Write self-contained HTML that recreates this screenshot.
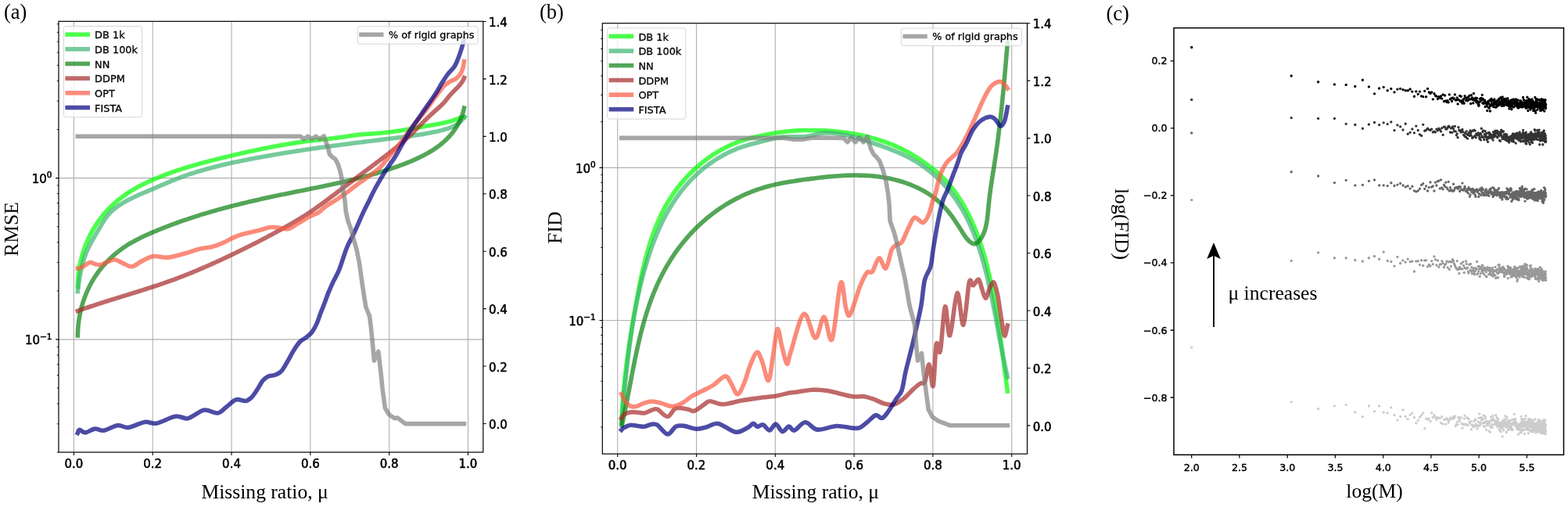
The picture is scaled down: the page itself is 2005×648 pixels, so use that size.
<!DOCTYPE html><html><head><meta charset="utf-8"><style>html,body{margin:0;padding:0;background:#fff}svg{display:block}</style></head><body>
<svg width="2005" height="648" viewBox="0 0 2005 648">
<rect width="2005" height="648" fill="#fff"/>
<clipPath id="ca"><rect x="75" y="27.3" width="542.8" height="550.7"/></clipPath>
<path d="M94.4,27.3 V578 M195.22,27.3 V578 M296.04,27.3 V578 M396.86,27.3 V578 M497.68,27.3 V578 M598.5,27.3 V578 M75,227.6 H617.8 M75,433.9 H617.8" stroke="#b0b0b0" stroke-width="1.1" fill="none"/>
<g clip-path="url(#ca)" fill="none" stroke-width="5.6" stroke-linejoin="round">
<path d="M99.4,366.5 L99.43,364.26 L99.49,362.01 L99.58,359.77 L99.71,357.52 L99.88,355.27 L100.07,353.03 L100.31,350.78 L100.57,348.54 L100.88,346.3 L101.21,344.07 L101.58,341.84 L101.98,339.61 L102.42,337.39 L102.89,335.17 L103.39,332.97 L103.93,330.76 L104.5,328.57 L105.1,326.39 L105.74,324.21 L106.41,322.04 L107.11,319.89 L107.85,317.74 L108.62,315.61 L109.42,313.49 L110.25,311.38 L111.11,309.29 L112.01,307.21 L112.94,305.14 L113.9,303.09 L114.9,301.06 L115.92,299.04 L116.98,297.04 L118.07,295.06 L119.19,293.1 L120.34,291.16 L121.52,289.23 L122.74,287.33 L123.98,285.45 L125.26,283.59 L126.57,281.75 L127.9,279.93 L129.26,278.14 L130.66,276.36 L132.08,274.62 L133.53,272.89 L135.01,271.19 L136.51,269.52 L138.04,267.87 L139.6,266.24 L141.18,264.65 L142.79,263.08 L144.43,261.53 L146.09,260.01 L147.77,258.53 L149.48,257.07 L151.21,255.63 L152.97,254.23 L154.75,252.86 L156.55,251.51 L158.37,250.19 L160.21,248.89 L162.07,247.62 L163.95,246.38 L165.85,245.16 L167.77,243.97 L169.7,242.8 L171.65,241.65 L173.61,240.53 L175.59,239.42 L177.59,238.34 L179.6,237.28 L181.62,236.24 L183.65,235.22 L185.69,234.22 L187.75,233.24 L189.81,232.28 L191.89,231.34 L193.97,230.41 L196.06,229.5 L198.16,228.6 L200.26,227.72 L202.37,226.86 L204.49,226.01 L206.61,225.17 L208.73,224.35 L210.85,223.54 L212.98,222.75 L215.11,221.96 L217.25,221.19 L219.38,220.43 L221.52,219.68 L223.65,218.94 L225.79,218.21 L227.94,217.5 L230.08,216.79 L232.23,216.09 L234.37,215.41 L236.52,214.73 L238.68,214.06 L240.83,213.4 L242.98,212.75 L245.14,212.11 L247.3,211.48 L249.46,210.85 L251.62,210.23 L253.79,209.62 L255.95,209.02 L258.12,208.42 L260.29,207.83 L262.46,207.25 L264.63,206.67 L266.81,206.1 L268.99,205.54 L271.16,204.98 L273.34,204.42 L275.53,203.87 L277.71,203.33 L279.89,202.79 L282.08,202.25 L284.27,201.72 L286.46,201.19 L288.65,200.67 L290.84,200.14 L293.04,199.62 L295.23,199.11 L297.43,198.59 L299.63,198.08 L301.83,197.57 L304.03,197.06 L306.24,196.56 L308.44,196.06 L310.65,195.56 L312.85,195.07 L315.06,194.57 L317.27,194.08 L319.49,193.6 L321.7,193.12 L323.91,192.64 L326.13,192.17 L328.34,191.7 L330.56,191.23 L332.78,190.77 L335,190.31 L337.22,189.86 L339.44,189.42 L341.67,188.97 L343.89,188.54 L346.12,188.1 L348.34,187.68 L350.57,187.26 L352.8,186.84 L355.02,186.43 L357.25,186.03 L359.48,185.63 L361.71,185.24 L363.95,184.85 L366.18,184.47 L368.41,184.1 L370.64,183.73 L372.88,183.38 L375.11,183.02 L377.35,182.68 L379.58,182.34 L381.82,182.01 L384.06,181.69 L386.29,181.37 L388.53,181.06 L390.77,180.77 L393.01,180.47 L395.24,180.19 L397.48,179.92 L399.72,179.65 L401.96,179.39 L404.2,179.14 L406.44,178.89 L408.68,178.64 L410.92,178.4 L413.16,178.16 L415.4,177.92 L417.64,177.67 L419.88,177.43 L422.12,177.18 L424.36,176.92 L426.6,176.66 L428.84,176.4 L431.08,176.12 L433.32,175.84 L435.56,175.54 L437.8,175.23 L440.04,174.91 L442.28,174.58 L444.52,174.23 L446.77,173.88 L449.01,173.54 L451.25,173.21 L453.49,172.89 L455.74,172.6 L457.98,172.33 L460.23,172.09 L462.47,171.87 L464.72,171.67 L466.97,171.49 L469.22,171.32 L471.47,171.16 L473.72,171.01 L475.97,170.86 L478.22,170.7 L480.47,170.55 L482.72,170.38 L484.97,170.2 L487.21,170.01 L489.46,169.8 L491.7,169.57 L493.95,169.33 L496.19,169.07 L498.43,168.8 L500.67,168.51 L502.91,168.21 L505.15,167.9 L507.39,167.58 L509.63,167.24 L511.86,166.9 L514.1,166.55 L516.33,166.19 L518.56,165.82 L520.8,165.44 L523.03,165.06 L525.26,164.68 L527.49,164.29 L529.72,163.89 L531.94,163.5 L534.17,163.1 L536.4,162.7 L538.62,162.3 L540.85,161.9 L543.07,161.5 L545.3,161.1 L547.52,160.71 L549.74,160.32 L551.96,159.93 L554.19,159.55 L556.41,159.16 L558.62,158.77 L560.84,158.37 L563.05,157.96 L565.25,157.52 L567.45,157.06 L569.64,156.57 L571.83,156.05 L574,155.48 L576.17,154.87 L578.33,154.21 L580.47,153.5 L582.6,152.73 L584.73,151.92 L586.87,151.15 L589.03,150.49 L591.24,150.02 L593.5,149.8" stroke="#00ff00" stroke-opacity="0.7" stroke-linecap="square"/>
<path d="M99.4,372.5 L99.67,370.24 L99.94,367.98 L100.23,365.72 L100.53,363.47 L100.85,361.22 L101.18,358.97 L101.52,356.73 L101.89,354.49 L102.28,352.26 L102.69,350.03 L103.13,347.81 L103.59,345.6 L104.07,343.39 L104.59,341.2 L105.14,339.01 L105.71,336.84 L106.32,334.67 L106.97,332.52 L107.65,330.38 L108.37,328.25 L109.13,326.14 L109.93,324.04 L110.78,321.95 L111.66,319.88 L112.59,317.82 L113.56,315.78 L114.57,313.75 L115.6,311.73 L116.66,309.73 L117.75,307.73 L118.86,305.74 L119.99,303.76 L121.13,301.79 L122.29,299.83 L123.45,297.87 L124.61,295.91 L125.77,293.96 L126.93,292.01 L128.09,290.06 L129.24,288.11 L130.39,286.18 L131.56,284.26 L132.75,282.36 L133.98,280.49 L135.24,278.65 L136.55,276.86 L137.92,275.11 L139.36,273.41 L140.87,271.76 L142.47,270.18 L144.13,268.66 L145.86,267.19 L147.65,265.77 L149.49,264.4 L151.37,263.08 L153.29,261.81 L155.24,260.57 L157.21,259.38 L159.21,258.23 L161.21,257.11 L163.22,256.02 L165.23,254.97 L167.25,253.94 L169.28,252.94 L171.32,251.97 L173.36,251.01 L175.4,250.07 L177.45,249.15 L179.51,248.24 L181.56,247.35 L183.63,246.46 L185.69,245.59 L187.76,244.71 L189.83,243.84 L191.9,242.97 L193.98,242.09 L196.05,241.21 L198.13,240.33 L200.21,239.44 L202.29,238.54 L204.37,237.65 L206.46,236.75 L208.54,235.86 L210.63,234.97 L212.73,234.08 L214.82,233.2 L216.92,232.32 L219.02,231.45 L221.13,230.59 L223.24,229.74 L225.35,228.91 L227.47,228.08 L229.59,227.27 L231.71,226.48 L233.84,225.7 L235.98,224.93 L238.12,224.18 L240.26,223.44 L242.4,222.72 L244.55,222 L246.71,221.3 L248.86,220.62 L251.02,219.94 L253.19,219.27 L255.35,218.62 L257.52,217.98 L259.7,217.35 L261.87,216.73 L264.05,216.12 L266.23,215.52 L268.42,214.93 L270.6,214.35 L272.79,213.78 L274.99,213.22 L277.18,212.67 L279.38,212.13 L281.58,211.59 L283.78,211.07 L285.98,210.55 L288.19,210.04 L290.39,209.53 L292.6,209.04 L294.81,208.55 L297.02,208.06 L299.24,207.59 L301.45,207.11 L303.67,206.65 L305.88,206.19 L308.1,205.73 L310.32,205.29 L312.54,204.84 L314.76,204.4 L316.99,203.96 L319.21,203.53 L321.43,203.1 L323.66,202.68 L325.88,202.26 L328.11,201.84 L330.33,201.43 L332.56,201.01 L334.79,200.61 L337.01,200.2 L339.24,199.8 L341.47,199.41 L343.7,199.01 L345.93,198.62 L348.16,198.23 L350.39,197.85 L352.62,197.47 L354.85,197.09 L357.09,196.71 L359.32,196.34 L361.55,195.97 L363.78,195.61 L366.02,195.24 L368.25,194.88 L370.49,194.52 L372.72,194.17 L374.96,193.81 L377.2,193.46 L379.43,193.12 L381.67,192.77 L383.91,192.43 L386.15,192.09 L388.38,191.75 L390.62,191.42 L392.86,191.08 L395.1,190.75 L397.34,190.42 L399.58,190.1 L401.82,189.77 L404.06,189.45 L406.31,189.13 L408.55,188.81 L410.79,188.5 L413.03,188.18 L415.27,187.87 L417.52,187.56 L419.76,187.25 L422,186.94 L424.25,186.64 L426.49,186.33 L428.74,186.03 L430.98,185.73 L433.23,185.43 L435.47,185.14 L437.72,184.84 L439.96,184.54 L442.21,184.25 L444.45,183.96 L446.7,183.67 L448.95,183.38 L451.19,183.09 L453.44,182.8 L455.69,182.52 L457.93,182.23 L460.18,181.95 L462.43,181.67 L464.68,181.39 L466.92,181.1 L469.17,180.82 L471.42,180.54 L473.67,180.27 L475.92,179.99 L478.16,179.71 L480.41,179.43 L482.66,179.16 L484.91,178.88 L487.16,178.61 L489.41,178.33 L491.66,178.06 L493.9,177.78 L496.15,177.51 L498.4,177.24 L500.65,176.97 L502.9,176.69 L505.15,176.42 L507.4,176.14 L509.65,175.86 L511.89,175.58 L514.14,175.29 L516.39,175 L518.63,174.71 L520.87,174.41 L523.12,174.1 L525.36,173.79 L527.6,173.47 L529.84,173.14 L532.07,172.81 L534.31,172.46 L536.54,172.11 L538.78,171.74 L541.01,171.37 L543.23,170.98 L545.46,170.58 L547.68,170.17 L549.9,169.74 L552.12,169.31 L554.34,168.85 L556.55,168.39 L558.76,167.9 L560.97,167.4 L563.17,166.89 L565.37,166.35 L567.56,165.78 L569.73,165.17 L571.87,164.52 L573.99,163.8 L576.08,163.02 L578.13,162.16 L580.13,161.21 L582.08,160.17 L583.97,159.02 L585.81,157.75 L587.57,156.36 L589.26,154.84 L590.88,153.19 L592.43,151.41 L593.9,149.5" stroke="#3cb371" stroke-opacity="0.7" stroke-linecap="square"/>
<path d="M99.4,429 L99.44,426.62 L99.51,424.24 L99.62,421.85 L99.78,419.47 L99.97,417.09 L100.2,414.71 L100.48,412.34 L100.79,409.97 L101.14,407.6 L101.53,405.24 L101.95,402.89 L102.42,400.54 L102.93,398.2 L103.47,395.87 L104.05,393.55 L104.68,391.24 L105.34,388.94 L106.03,386.65 L106.77,384.38 L107.55,382.12 L108.36,379.87 L109.21,377.64 L110.1,375.42 L111.03,373.22 L112,371.04 L113,368.87 L114.05,366.72 L115.13,364.6 L116.24,362.49 L117.4,360.4 L118.59,358.34 L119.82,356.3 L121.09,354.28 L122.4,352.29 L123.74,350.32 L125.12,348.38 L126.54,346.46 L127.99,344.57 L129.48,342.71 L131,340.88 L132.55,339.07 L134.14,337.29 L135.76,335.54 L137.41,333.82 L139.09,332.12 L140.8,330.46 L142.54,328.83 L144.31,327.23 L146.1,325.66 L147.93,324.12 L149.77,322.61 L151.65,321.13 L153.54,319.69 L155.46,318.28 L157.41,316.9 L159.37,315.55 L161.36,314.24 L163.36,312.97 L165.39,311.72 L167.43,310.51 L169.49,309.33 L171.57,308.18 L173.66,307.05 L175.77,305.95 L177.89,304.88 L180.02,303.82 L182.17,302.79 L184.32,301.78 L186.49,300.78 L188.66,299.8 L190.84,298.83 L193.02,297.88 L195.21,296.94 L197.41,296.01 L199.61,295.09 L201.81,294.17 L204.01,293.27 L206.22,292.38 L208.44,291.5 L210.66,290.62 L212.88,289.75 L215.1,288.9 L217.33,288.05 L219.56,287.21 L221.8,286.38 L224.04,285.56 L226.28,284.75 L228.53,283.94 L230.77,283.15 L233.03,282.36 L235.28,281.58 L237.54,280.81 L239.8,280.04 L242.06,279.29 L244.33,278.54 L246.6,277.8 L248.87,277.06 L251.15,276.34 L253.42,275.62 L255.7,274.91 L257.99,274.2 L260.27,273.51 L262.56,272.82 L264.85,272.13 L267.14,271.46 L269.43,270.79 L271.73,270.12 L274.03,269.47 L276.33,268.82 L278.63,268.17 L280.93,267.54 L283.24,266.9 L285.54,266.28 L287.85,265.66 L290.16,265.04 L292.48,264.44 L294.79,263.83 L297.1,263.24 L299.42,262.64 L301.74,262.06 L304.06,261.48 L306.38,260.9 L308.7,260.33 L311.02,259.76 L313.35,259.2 L315.67,258.65 L318,258.09 L320.32,257.55 L322.65,257 L324.98,256.47 L327.31,255.93 L329.64,255.4 L331.97,254.88 L334.3,254.35 L336.63,253.84 L338.96,253.32 L341.29,252.81 L343.62,252.3 L345.95,251.8 L348.29,251.3 L350.62,250.8 L352.95,250.31 L355.28,249.82 L357.62,249.33 L359.95,248.85 L362.28,248.37 L364.61,247.89 L366.94,247.41 L369.27,246.94 L371.61,246.46 L373.94,245.99 L376.27,245.52 L378.6,245.06 L380.93,244.59 L383.25,244.12 L385.58,243.65 L387.91,243.19 L390.24,242.72 L392.57,242.25 L394.89,241.79 L397.22,241.32 L399.55,240.85 L401.87,240.38 L404.2,239.9 L406.52,239.43 L408.85,238.95 L411.17,238.47 L413.49,237.99 L415.81,237.51 L418.14,237.02 L420.46,236.53 L422.78,236.03 L425.1,235.53 L427.41,235.03 L429.73,234.52 L432.05,234.01 L434.37,233.49 L436.68,232.97 L439,232.44 L441.31,231.91 L443.63,231.37 L445.94,230.82 L448.25,230.27 L450.56,229.71 L452.87,229.15 L455.18,228.57 L457.49,227.99 L459.8,227.4 L462.11,226.81 L464.41,226.2 L466.72,225.59 L469.02,224.97 L471.32,224.34 L473.62,223.7 L475.92,223.05 L478.22,222.39 L480.52,221.72 L482.82,221.04 L485.12,220.35 L487.41,219.65 L489.71,218.93 L492,218.21 L494.29,217.48 L496.58,216.73 L498.87,215.97 L501.16,215.2 L503.45,214.42 L505.73,213.62 L508.02,212.81 L510.3,211.99 L512.58,211.15 L514.86,210.3 L517.14,209.43 L519.41,208.55 L521.67,207.65 L523.92,206.73 L526.17,205.8 L528.4,204.84 L530.62,203.86 L532.82,202.87 L535.02,201.84 L537.19,200.8 L539.35,199.73 L541.48,198.64 L543.6,197.52 L545.7,196.38 L547.77,195.2 L549.81,194 L551.83,192.77 L553.83,191.51 L555.79,190.22 L557.72,188.9 L559.63,187.54 L561.49,186.15 L563.33,184.73 L565.13,183.27 L566.89,181.78 L568.61,180.24 L570.3,178.67 L571.94,177.07 L573.54,175.42 L575.1,173.73 L576.61,172 L578.07,170.23 L579.49,168.41 L580.85,166.55 L582.17,164.65 L583.43,162.7 L584.64,160.7 L585.8,158.66 L586.9,156.57 L587.94,154.43 L588.92,152.24 L589.84,150 L590.7,147.7 L591.5,145.36 L592.23,142.96 L592.9,140.51 L593.5,138" stroke="#0a800f" stroke-opacity="0.7" stroke-linecap="square"/>
<path d="M99.4,397.5 L101.53,396.73 L103.66,395.97 L105.8,395.21 L107.94,394.46 L110.08,393.71 L112.22,392.98 L114.37,392.25 L116.51,391.52 L118.66,390.8 L120.81,390.09 L122.97,389.38 L125.12,388.67 L127.28,387.97 L129.44,387.28 L131.59,386.58 L133.76,385.89 L135.92,385.21 L138.08,384.53 L140.24,383.85 L142.41,383.17 L144.57,382.49 L146.74,381.82 L148.9,381.15 L151.07,380.48 L153.24,379.81 L155.41,379.14 L157.57,378.47 L159.74,377.81 L161.91,377.14 L164.08,376.47 L166.25,375.8 L168.41,375.14 L170.58,374.47 L172.75,373.79 L174.91,373.12 L177.08,372.45 L179.24,371.77 L181.41,371.09 L183.57,370.41 L185.73,369.72 L187.89,369.03 L190.05,368.34 L192.21,367.65 L194.36,366.95 L196.52,366.24 L198.67,365.53 L200.82,364.82 L202.97,364.1 L205.12,363.38 L207.26,362.65 L209.4,361.91 L211.54,361.17 L213.68,360.42 L215.82,359.66 L217.95,358.9 L220.08,358.13 L222.21,357.35 L224.33,356.57 L226.46,355.78 L228.58,354.98 L230.69,354.17 L232.81,353.35 L234.92,352.53 L237.03,351.7 L239.13,350.87 L241.24,350.02 L243.34,349.17 L245.44,348.32 L247.53,347.46 L249.62,346.59 L251.72,345.72 L253.8,344.84 L255.89,343.95 L257.97,343.06 L260.05,342.16 L262.13,341.26 L264.21,340.35 L266.28,339.44 L268.36,338.53 L270.42,337.6 L272.49,336.68 L274.56,335.74 L276.62,334.81 L278.68,333.87 L280.74,332.92 L282.8,331.97 L284.85,331.02 L286.9,330.06 L288.95,329.1 L291,328.14 L293.05,327.17 L295.09,326.2 L297.13,325.22 L299.18,324.25 L301.21,323.27 L303.25,322.28 L305.28,321.29 L307.32,320.3 L309.35,319.31 L311.38,318.31 L313.4,317.31 L315.43,316.3 L317.45,315.29 L319.47,314.28 L321.49,313.27 L323.51,312.25 L325.53,311.22 L327.54,310.19 L329.55,309.16 L331.57,308.13 L333.57,307.09 L335.58,306.04 L337.59,305 L339.59,303.95 L341.59,302.89 L343.59,301.83 L345.59,300.77 L347.59,299.7 L349.58,298.62 L351.57,297.55 L353.56,296.47 L355.55,295.38 L357.54,294.29 L359.53,293.19 L361.51,292.09 L363.49,290.99 L365.47,289.88 L367.45,288.76 L369.42,287.64 L371.4,286.51 L373.36,285.38 L375.32,284.24 L377.28,283.09 L379.23,281.93 L381.18,280.76 L383.12,279.58 L385.05,278.4 L386.97,277.2 L388.89,276 L390.8,274.78 L392.7,273.55 L394.6,272.31 L396.48,271.06 L398.35,269.79 L400.22,268.52 L402.07,267.23 L403.92,265.93 L405.76,264.63 L407.59,263.31 L409.43,261.99 L411.25,260.66 L413.07,259.33 L414.9,257.99 L416.71,256.65 L418.53,255.31 L420.35,253.96 L422.17,252.61 L423.98,251.26 L425.79,249.91 L427.61,248.55 L429.42,247.19 L431.23,245.83 L433.04,244.47 L434.85,243.11 L436.66,241.74 L438.47,240.38 L440.28,239.01 L442.09,237.64 L443.9,236.27 L445.7,234.91 L447.51,233.54 L449.32,232.17 L451.13,230.8 L452.94,229.43 L454.74,228.06 L456.55,226.69 L458.36,225.32 L460.17,223.95 L461.98,222.58 L463.79,221.22 L465.6,219.85 L467.41,218.49 L469.22,217.12 L471.04,215.76 L472.85,214.4 L474.66,213.04 L476.48,211.69 L478.29,210.33 L480.1,208.97 L481.92,207.61 L483.73,206.25 L485.53,204.89 L487.34,203.53 L489.14,202.16 L490.94,200.79 L492.74,199.42 L494.53,198.04 L496.32,196.65 L498.1,195.26 L499.88,193.86 L501.65,192.46 L503.41,191.04 L505.17,189.62 L506.92,188.19 L508.67,186.76 L510.4,185.31 L512.13,183.85 L513.85,182.38 L515.56,180.9 L517.26,179.4 L518.95,177.9 L520.63,176.38 L522.3,174.84 L523.96,173.29 L525.6,171.73 L527.24,170.16 L528.86,168.57 L530.48,166.97 L532.09,165.36 L533.69,163.74 L535.3,162.12 L536.9,160.5 L538.49,158.88 L540.09,157.26 L541.7,155.64 L543.3,154.03 L544.92,152.43 L546.54,150.83 L548.17,149.25 L549.81,147.68 L551.46,146.13 L553.13,144.59 L554.81,143.07 L556.51,141.58 L558.21,140.1 L559.92,138.62 L561.61,137.14 L563.28,135.62 L564.9,134.08 L566.48,132.48 L567.99,130.82 L569.44,129.1 L570.86,127.35 L572.27,125.57 L573.68,123.8 L575.12,122.05 L576.6,120.33 L578.15,118.67 L579.74,117.04 L581.36,115.44 L582.98,113.84 L584.58,112.25 L586.15,110.62 L587.65,108.96 L589.08,107.24 L590.39,105.45 L591.58,103.58 L592.63,101.6 L593.5,99.5" stroke="#a52a2a" stroke-opacity="0.7" stroke-linecap="square"/>
<path d="M99.4,342.8C99.82,342.83 100.47,343.55 101.9,343C103.33,342.45 105.85,340.77 108,339.5C110.15,338.23 112.53,335.73 114.8,335.4C117.07,335.07 119.35,336.98 121.6,337.5C123.85,338.02 125.73,338.92 128.3,338.5C130.87,338.08 133.98,336.13 137,335C140.02,333.87 143.22,331.57 146.4,331.7C149.58,331.83 152.4,334.3 156.1,335.8C159.8,337.3 164.2,341.15 168.6,340.7C173,340.25 177.87,335.3 182.5,333.1C187.13,330.9 191.03,328.17 196.4,327.5C201.77,326.83 208.05,329.68 214.7,329.1C221.35,328.52 229.62,325.8 236.3,324C242.98,322.2 248.88,319.77 254.8,318.3C260.72,316.83 266.65,316.57 271.8,315.2C276.95,313.83 281.33,311.98 285.7,310.1C290.07,308.22 293.88,305.7 298,303.9C302.12,302.1 305.07,300.82 310.4,299.3C315.73,297.78 324.17,296.27 330,294.8C335.83,293.33 341.03,291.13 345.4,290.5C349.77,289.87 352.33,290.67 356.2,291C360.07,291.33 364.48,293.4 368.6,292.5C372.72,291.6 376.2,288.3 380.9,285.6C385.6,282.9 392.42,278.62 396.8,276.3C401.18,273.98 404.1,273.63 407.2,271.7C410.3,269.77 411.45,267.53 415.4,264.7C419.35,261.87 425.75,258.17 430.9,254.7C436.05,251.23 442.13,246.95 446.3,243.9C450.47,240.85 451.73,239.45 455.9,236.4C460.07,233.35 466.17,229.45 471.3,225.6C476.43,221.75 482.33,217.57 486.7,213.3C491.07,209.03 493.63,204.63 497.5,200C501.37,195.37 505.32,191.33 509.9,185.5C514.48,179.67 520.82,170.5 525,165C529.18,159.5 531.65,156.67 535,152.5C538.35,148.33 541.75,144.38 545.1,140C548.45,135.62 551.43,131.12 555.1,126.2C558.77,121.28 563.77,114.12 567.1,110.5C570.43,106.88 572.43,106.17 575.1,104.5C577.77,102.83 580.77,102.23 583.1,100.5C585.43,98.77 587.58,96.5 589.1,94.1C590.62,91.7 591.47,88.7 592.2,86.1C592.93,83.5 593.28,79.77 593.5,78.5" stroke="#fa5a41" stroke-opacity="0.7" stroke-linecap="square"/>
<path d="M99.4,553.5C99.78,552.8 100.05,549.4 101.7,549.3C103.35,549.2 106.05,553.1 109.3,552.9C112.55,552.7 117.25,548.55 121.2,548.1C125.15,547.65 128.15,550.93 133,550.2C137.85,549.47 145.07,544.33 150.3,543.7C155.53,543.07 158.62,547.12 164.4,546.4C170.18,545.68 179.03,540.28 185,539.4C190.97,538.52 193.72,542.3 200.2,541.1C206.68,539.9 217.43,533.22 223.9,532.2C230.37,531.18 235.03,535.2 239,535C242.97,534.8 243.93,532.83 247.7,531C251.47,529.17 256.45,524.52 261.6,524C266.75,523.48 273.97,528.53 278.6,527.9C283.23,527.27 285.55,523.03 289.4,520.2C293.25,517.37 297.58,512.18 301.7,510.9C305.82,509.62 310.75,513.02 314.1,512.5C317.45,511.98 319.23,510.38 321.8,507.8C324.37,505.22 327.13,500.55 329.5,497C331.87,493.45 333.73,489.17 336,486.5C338.27,483.83 340.37,482.25 343.1,481C345.83,479.75 349.57,480.15 352.4,479C355.23,477.85 357.53,476.98 360.1,474.1C362.67,471.22 365.22,466.08 367.8,461.7C370.38,457.32 373.02,451.92 375.6,447.8C378.18,443.68 380.73,439.7 383.3,437C385.87,434.3 388.43,433.65 391,431.6C393.57,429.55 396.38,427.65 398.7,424.7C401.02,421.75 403.02,418.02 404.9,413.9C406.78,409.78 408.43,404.1 410,400C411.57,395.9 412.67,393.57 414.3,389.3C415.93,385.03 417.8,379.35 419.8,374.4C421.8,369.45 423.98,364.53 426.3,359.6C428.62,354.67 430.88,351.87 433.7,344.8C436.52,337.73 440.33,324.38 443.2,317.2C446.07,310.02 448.45,306.85 450.9,301.7C453.35,296.55 455.58,291.43 457.9,286.3C460.22,281.17 462.37,276.05 464.8,270.9C467.23,265.75 469.93,260.55 472.5,255.4C475.07,250.25 476.8,246.15 480.2,240C483.6,233.85 488.68,225.17 492.9,218.5C497.12,211.83 500.57,208.08 505.5,200C510.43,191.92 516.83,179.17 522.5,170C528.17,160.83 533.78,153.33 539.5,145C545.22,136.67 552.53,126.5 556.8,120C561.07,113.5 562.38,110.32 565.1,106C567.82,101.68 570.43,97.58 573.1,94.1C575.77,90.62 578.93,88.45 581.1,85.1C583.27,81.75 584.58,77.85 586.1,74C587.62,70.15 588.97,66 590.2,62C591.43,58 592.95,52 593.5,50" stroke="#000080" stroke-opacity="0.7" stroke-linecap="square"/>
<path d="M99.4,174.3 L384.4,174.3 L388.5,177.8 L393.7,174.2 L398.9,177.8 L403.9,174.2 L408.9,177.8 L414.1,173.9 L416.9,181.5 L419.6,189.8 L421.5,197.2 L425.2,200.9 L428.9,203.5 L432.6,211.1 L435.4,220.4 L437.2,229.6 L438.5,242.6 L440.9,255.4 L442.4,270.9 L444.8,281.7 L448.6,292.5 L452.5,306.4 L456.3,320.2 L459.6,337 L463.3,363.3 L466.1,381.9 L468,393 L472.6,404.1 L474.4,418.9 L476.3,437.4 L478.4,461 L483.8,449.2 L487,476.2 L489.2,497.8 L492.4,521.5 L497.8,530.2 L504.3,534.5 L508.6,534.1 L518.3,541.6 L593.5,541.6" stroke="#808080" stroke-opacity="0.7" stroke-linecap="square"/>
</g>
<rect x="75" y="27.3" width="542.8" height="550.7" fill="none" stroke="#000" stroke-width="1.2"/>
<path d="M94.4,578 v4 M195.22,578 v4 M296.04,578 v4 M396.86,578 v4 M497.68,578 v4 M598.5,578 v4 M75,227.6 h-3.8 M75,433.9 h-3.8 M617.8,541.5 h3.8 M617.8,468.07 h3.8 M617.8,394.64 h3.8 M617.8,321.21 h3.8 M617.8,247.78 h3.8 M617.8,174.35 h3.8 M617.8,100.92 h3.8 M617.8,27.49 h3.8" stroke="#000" stroke-width="1.1" fill="none"/>
<path d="M75,578.1 h-2.2 M75,541.77 h-2.2 M75,516 h-2.2 M75,496 h-2.2 M75,479.67 h-2.2 M75,465.86 h-2.2 M75,453.89 h-2.2 M75,443.34 h-2.2 M75,371.8 h-2.2 M75,335.47 h-2.2 M75,309.7 h-2.2 M75,289.7 h-2.2 M75,273.37 h-2.2 M75,259.56 h-2.2 M75,247.59 h-2.2 M75,237.04 h-2.2 M75,165.5 h-2.2 M75,129.17 h-2.2 M75,103.4 h-2.2 M75,83.4 h-2.2 M75,67.07 h-2.2 M75,53.26 h-2.2 M75,41.29 h-2.2 M75,30.74 h-2.2" stroke="#000" stroke-width="0.9" fill="none"/>
<g style="font-family:'DejaVu Sans',sans-serif;font-size:15px" fill="#000" stroke="#000" stroke-width="0.55">
<text x="94.4" y="597.6" text-anchor="middle">0.0</text>
<text x="195.22" y="597.6" text-anchor="middle">0.2</text>
<text x="296.04" y="597.6" text-anchor="middle">0.4</text>
<text x="396.86" y="597.6" text-anchor="middle">0.6</text>
<text x="497.68" y="597.6" text-anchor="middle">0.8</text>
<text x="598.5" y="597.6" text-anchor="middle">1.0</text>
<text x="625" y="548.1">0.0</text>
<text x="625" y="474.67">0.2</text>
<text x="625" y="401.24">0.4</text>
<text x="625" y="327.81">0.6</text>
<text x="625" y="254.38">0.8</text>
<text x="625" y="180.95">1.0</text>
<text x="625" y="107.52">1.2</text>
<text x="625" y="34.09">1.4</text>
<text x="66.5" y="233.8" text-anchor="end">10<tspan dy="-6.6" font-size="10.5px">0</tspan></text>
<text x="66.5" y="440.1" text-anchor="end">10<tspan dy="-6.6" font-size="10.5px">−1</tspan></text>
</g>
<rect x="81.4" y="33.5" width="100.2" height="116.2" rx="2.8" fill="#fff" fill-opacity="0.8" stroke="#d6d6d6" stroke-width="1"/>
<g style="font-family:'DejaVu Sans',sans-serif;font-size:12.9px" fill="#000">
<path d="M83.4,44.1 H115" stroke="#00ff00" stroke-opacity="0.7" stroke-width="5.6"/>
<text x="121.1" y="49.3" stroke="#000" stroke-width="0.3">DB 1k</text>
<path d="M83.4,62.78 H115" stroke="#3cb371" stroke-opacity="0.7" stroke-width="5.6"/>
<text x="121.1" y="67.98" stroke="#000" stroke-width="0.3">DB 100k</text>
<path d="M83.4,81.46 H115" stroke="#0a800f" stroke-opacity="0.7" stroke-width="5.6"/>
<text x="121.1" y="86.66" stroke="#000" stroke-width="0.3">NN</text>
<path d="M83.4,100.14 H115" stroke="#a52a2a" stroke-opacity="0.7" stroke-width="5.6"/>
<text x="121.1" y="105.34" stroke="#000" stroke-width="0.3">DDPM</text>
<path d="M83.4,118.82 H115" stroke="#fa5a41" stroke-opacity="0.7" stroke-width="5.6"/>
<text x="121.1" y="124.02" stroke="#000" stroke-width="0.3">OPT</text>
<path d="M83.4,137.5 H115" stroke="#000080" stroke-opacity="0.7" stroke-width="5.6"/>
<text x="121.1" y="142.7" stroke="#000" stroke-width="0.3">FISTA</text>
</g>
<rect x="457.2" y="33.8" width="154.1" height="22.4" rx="2.8" fill="#fff" fill-opacity="0.8" stroke="#d6d6d6" stroke-width="1"/>
<path d="M459.2,44.2 H490.5" stroke="#808080" stroke-opacity="0.7" stroke-width="5.6"/>
<text x="497" y="48.5" style="font-family:'DejaVu Sans',sans-serif;font-size:12.8px" stroke="#000" stroke-width="0.3">% of rigid graphs</text>
<clipPath id="cb"><rect x="770.3" y="29.7" width="543.2" height="550.4"/></clipPath>
<path d="M789.7,29.7 V580.1 M890.5,29.7 V580.1 M991.3,29.7 V580.1 M1092.1,29.7 V580.1 M1192.9,29.7 V580.1 M1293.7,29.7 V580.1 M770.3,214.4 H1313.5 M770.3,409.5 H1313.5" stroke="#b0b0b0" stroke-width="1.1" fill="none"/>
<g clip-path="url(#cb)" fill="none" stroke-width="5.6" stroke-linejoin="round">
<path d="M794.7,540.5 L794.86,536.65 L795.04,532.82 L795.24,528.99 L795.46,525.17 L795.69,521.36 L795.95,517.56 L796.22,513.77 L796.51,509.98 L796.81,506.2 L797.13,502.43 L797.47,498.66 L797.82,494.91 L798.19,491.15 L798.57,487.41 L798.97,483.66 L799.38,479.93 L799.81,476.19 L800.25,472.46 L800.71,468.74 L801.17,465.01 L801.66,461.29 L802.15,457.58 L802.65,453.86 L803.17,450.15 L803.7,446.44 L804.24,442.73 L804.8,439.02 L805.36,435.3 L805.93,431.59 L806.52,427.88 L807.11,424.17 L807.71,420.46 L808.33,416.74 L808.95,413.03 L809.58,409.31 L810.21,405.59 L810.86,401.86 L811.51,398.14 L812.17,394.4 L812.84,390.67 L813.52,386.93 L814.2,383.18 L814.89,379.43 L815.59,375.68 L816.3,371.93 L817.03,368.18 L817.77,364.43 L818.53,360.68 L819.3,356.93 L820.09,353.19 L820.91,349.46 L821.75,345.73 L822.61,342 L823.5,338.29 L824.41,334.58 L825.35,330.89 L826.33,327.2 L827.33,323.53 L828.37,319.88 L829.44,316.23 L830.55,312.61 L831.7,309 L832.88,305.41 L834.11,301.84 L835.38,298.28 L836.69,294.75 L838.05,291.24 L839.46,287.76 L840.91,284.3 L842.42,280.86 L843.97,277.45 L845.58,274.07 L847.25,270.72 L848.97,267.39 L850.75,264.1 L852.59,260.84 L854.49,257.61 L856.45,254.42 L858.47,251.26 L860.57,248.14 L862.72,245.05 L864.95,242.01 L867.23,239 L869.58,236.04 L871.99,233.12 L874.46,230.25 L876.99,227.42 L879.58,224.65 L882.22,221.92 L884.92,219.25 L887.67,216.64 L890.48,214.08 L893.34,211.58 L896.25,209.14 L899.21,206.76 L902.22,204.45 L905.27,202.2 L908.37,200.02 L911.52,197.91 L914.71,195.86 L917.94,193.89 L921.22,192 L924.53,190.18 L927.89,188.44 L931.28,186.77 L934.71,185.19 L938.18,183.69 L941.68,182.28 L945.21,180.95 L948.78,179.71 L952.37,178.56 L956,177.5 L959.65,176.51 L963.31,175.59 L967,174.73 L970.69,173.92 L974.39,173.15 L978.1,172.42 L981.81,171.71 L985.51,171.02 L989.21,170.36 L992.91,169.74 L996.63,169.17 L1000.35,168.65 L1004.09,168.2 L1007.84,167.79 L1011.6,167.45 L1015.37,167.15 L1019.14,166.91 L1022.92,166.72 L1026.71,166.57 L1030.5,166.48 L1034.3,166.43 L1038.09,166.43 L1041.89,166.47 L1045.69,166.55 L1049.49,166.68 L1053.28,166.84 L1057.08,167.05 L1060.87,167.3 L1064.65,167.59 L1068.43,167.93 L1072.2,168.3 L1075.97,168.73 L1079.73,169.2 L1083.48,169.72 L1087.22,170.29 L1090.94,170.9 L1094.66,171.57 L1098.37,172.29 L1102.06,173.06 L1105.73,173.88 L1109.4,174.75 L1113.04,175.69 L1116.67,176.67 L1120.28,177.72 L1123.88,178.82 L1127.45,179.98 L1131.01,181.2 L1134.54,182.48 L1138.05,183.82 L1141.54,185.22 L1145,186.69 L1148.44,188.22 L1151.86,189.82 L1155.25,191.48 L1158.61,193.21 L1161.94,195.01 L1165.25,196.88 L1168.52,198.82 L1171.77,200.82 L1174.98,202.89 L1178.15,205.01 L1181.29,207.19 L1184.39,209.42 L1187.46,211.69 L1190.48,214 L1193.45,216.34 L1196.38,218.73 L1199.25,221.16 L1202.06,223.65 L1204.8,226.22 L1207.46,228.87 L1210.05,231.6 L1212.56,234.41 L1215,237.28 L1217.37,240.22 L1219.67,243.22 L1221.9,246.28 L1224.06,249.38 L1226.17,252.53 L1228.21,255.72 L1230.19,258.95 L1232.11,262.21 L1233.97,265.5 L1235.78,268.81 L1237.53,272.15 L1239.23,275.52 L1240.87,278.92 L1242.47,282.34 L1244.01,285.78 L1245.51,289.25 L1246.96,292.73 L1248.36,296.24 L1249.72,299.76 L1251.04,303.31 L1252.31,306.87 L1253.54,310.45 L1254.73,314.04 L1255.89,317.65 L1257.01,321.27 L1258.09,324.91 L1259.14,328.55 L1260.16,332.21 L1261.14,335.88 L1262.1,339.55 L1263.02,343.24 L1263.92,346.93 L1264.79,350.62 L1265.64,354.32 L1266.46,358.02 L1267.26,361.73 L1268.04,365.44 L1268.8,369.15 L1269.54,372.86 L1270.26,376.57 L1270.97,380.29 L1271.65,384.01 L1272.32,387.73 L1272.97,391.45 L1273.61,395.17 L1274.24,398.89 L1274.85,402.62 L1275.44,406.35 L1276.03,410.08 L1276.6,413.81 L1277.16,417.54 L1277.71,421.28 L1278.26,425.01 L1278.79,428.75 L1279.32,432.49 L1279.84,436.23 L1280.35,439.97 L1280.86,443.71 L1281.36,447.46 L1281.86,451.2 L1282.35,454.95 L1282.85,458.7 L1283.34,462.44 L1283.83,466.2 L1284.31,469.95 L1284.8,473.7 L1285.29,477.45 L1285.79,481.21 L1286.28,484.97 L1286.78,488.72 L1287.28,492.48 L1287.79,496.24 L1288.3,500" stroke="#00ff00" stroke-opacity="0.7" stroke-linecap="square"/>
<path d="M794.7,541 L795.03,537.37 L795.37,533.74 L795.7,530.11 L796.04,526.47 L796.37,522.84 L796.71,519.2 L797.05,515.56 L797.39,511.92 L797.73,508.28 L798.07,504.63 L798.42,500.99 L798.77,497.34 L799.13,493.7 L799.49,490.05 L799.86,486.4 L800.23,482.76 L800.61,479.11 L801,475.46 L801.4,471.82 L801.8,468.17 L802.21,464.53 L802.63,460.88 L803.06,457.24 L803.5,453.6 L803.95,449.96 L804.42,446.32 L804.89,442.68 L805.38,439.04 L805.88,435.41 L806.39,431.78 L806.91,428.15 L807.45,424.52 L808.01,420.9 L808.58,417.28 L809.16,413.66 L809.77,410.04 L810.38,406.43 L811.02,402.82 L811.67,399.22 L812.34,395.61 L813.04,392.02 L813.74,388.42 L814.47,384.83 L815.22,381.25 L815.99,377.67 L816.79,374.09 L817.6,370.52 L818.44,366.95 L819.29,363.39 L820.18,359.83 L821.08,356.28 L822.01,352.74 L822.97,349.2 L823.95,345.67 L824.95,342.14 L825.99,338.62 L827.05,335.1 L828.13,331.6 L829.25,328.1 L830.39,324.61 L831.57,321.13 L832.77,317.66 L834.01,314.2 L835.29,310.76 L836.59,307.33 L837.94,303.92 L839.32,300.53 L840.74,297.16 L842.19,293.8 L843.69,290.47 L845.22,287.16 L846.8,283.87 L848.42,280.61 L850.09,277.37 L851.8,274.16 L853.56,270.98 L855.36,267.83 L857.21,264.71 L859.11,261.62 L861.06,258.57 L863.06,255.54 L865.11,252.56 L867.21,249.61 L869.37,246.7 L871.59,243.82 L873.86,240.99 L876.18,238.2 L878.57,235.45 L881.01,232.74 L883.52,230.08 L886.08,227.47 L888.71,224.9 L891.4,222.39 L894.16,219.92 L896.98,217.5 L899.86,215.13 L902.81,212.82 L905.82,210.57 L908.88,208.38 L911.98,206.26 L915.12,204.2 L918.3,202.22 L921.5,200.32 L924.72,198.5 L927.96,196.76 L931.2,195.12 L934.45,193.57 L937.69,192.11 L940.93,190.74 L944.2,189.47 L947.51,188.27 L950.88,187.13 L954.32,186.06 L957.83,185.04 L961.38,184.06 L964.97,183.11 L968.58,182.19 L972.21,181.29 L975.83,180.39 L979.44,179.49 L983.01,178.58 L986.57,177.67 L990.1,176.83 L993.65,176.1 L997.2,175.53 L1000.79,175.15 L1004.4,174.94 L1008.03,174.84 L1011.67,174.83 L1015.32,174.85 L1018.97,174.86 L1022.61,174.82 L1026.25,174.69 L1029.87,174.42 L1033.46,173.98 L1037.04,173.32 L1040.58,172.46 L1044.12,171.55 L1047.68,170.74 L1051.27,170.16 L1054.9,169.89 L1058.55,169.87 L1062.21,170.03 L1065.84,170.31 L1069.47,170.7 L1073.07,171.2 L1076.66,171.78 L1080.24,172.46 L1083.8,173.22 L1087.35,174.05 L1090.89,174.95 L1094.42,175.91 L1097.94,176.93 L1101.45,177.99 L1104.95,179.1 L1108.45,180.23 L1111.94,181.4 L1115.42,182.59 L1118.9,183.79 L1122.38,185 L1125.85,186.22 L1129.31,187.46 L1132.77,188.71 L1136.2,189.99 L1139.63,191.3 L1143.04,192.64 L1146.42,194.02 L1149.78,195.45 L1153.12,196.93 L1156.42,198.47 L1159.7,200.06 L1162.94,201.73 L1166.14,203.46 L1169.31,205.27 L1172.43,207.16 L1175.51,209.12 L1178.55,211.16 L1181.54,213.26 L1184.49,215.44 L1187.39,217.68 L1190.24,219.98 L1193.04,222.35 L1195.79,224.78 L1198.49,227.27 L1201.14,229.82 L1203.73,232.42 L1206.26,235.08 L1208.74,237.79 L1211.16,240.55 L1213.52,243.36 L1215.82,246.22 L1218.06,249.12 L1220.24,252.07 L1222.35,255.05 L1224.4,258.08 L1226.38,261.14 L1228.3,264.25 L1230.17,267.38 L1231.97,270.55 L1233.72,273.76 L1235.41,276.99 L1237.06,280.25 L1238.64,283.54 L1240.18,286.86 L1241.67,290.2 L1243.12,293.57 L1244.52,296.95 L1245.87,300.36 L1247.18,303.78 L1248.46,307.22 L1249.69,310.68 L1250.89,314.15 L1252.05,317.63 L1253.17,321.13 L1254.27,324.63 L1255.33,328.14 L1256.37,331.66 L1257.37,335.18 L1258.35,338.71 L1259.3,342.25 L1260.23,345.79 L1261.14,349.33 L1262.02,352.89 L1262.88,356.44 L1263.72,360 L1264.54,363.57 L1265.35,367.13 L1266.14,370.71 L1266.91,374.28 L1267.66,377.86 L1268.41,381.44 L1269.14,385.03 L1269.86,388.61 L1270.57,392.2 L1271.27,395.79 L1271.96,399.39 L1272.64,402.98 L1273.32,406.58 L1274,410.18 L1274.67,413.78 L1275.34,417.38 L1276.01,420.97 L1276.68,424.57 L1277.35,428.17 L1278.02,431.77 L1278.7,435.37 L1279.38,438.97 L1280.06,442.57 L1280.76,446.16 L1281.46,449.76 L1282.17,453.35 L1282.89,456.94 L1283.62,460.53 L1284.36,464.12 L1285.12,467.7 L1285.89,471.28 L1286.67,474.86 L1287.48,478.43 L1288.3,482" stroke="#3cb371" stroke-opacity="0.7" stroke-linecap="square"/>
<path d="M795.2,543.5 L795.98,540 L796.75,536.49 L797.51,532.96 L798.25,529.43 L798.98,525.89 L799.71,522.34 L800.42,518.78 L801.12,515.21 L801.82,511.64 L802.52,508.06 L803.2,504.47 L803.89,500.88 L804.57,497.29 L805.26,493.69 L805.94,490.09 L806.62,486.48 L807.31,482.87 L808,479.27 L808.7,475.66 L809.4,472.05 L810.11,468.44 L810.83,464.83 L811.56,461.23 L812.3,457.63 L813.05,454.03 L813.81,450.43 L814.59,446.84 L815.39,443.25 L816.2,439.67 L817.03,436.09 L817.87,432.52 L818.74,428.96 L819.63,425.4 L820.54,421.86 L821.48,418.32 L822.44,414.79 L823.43,411.27 L824.44,407.77 L825.48,404.27 L826.55,400.79 L827.65,397.32 L828.79,393.86 L829.96,390.42 L831.16,386.99 L832.39,383.57 L833.67,380.18 L834.98,376.79 L836.33,373.43 L837.72,370.08 L839.15,366.75 L840.62,363.44 L842.14,360.15 L843.7,356.88 L845.31,353.63 L846.96,350.4 L848.66,347.19 L850.41,344.01 L852.21,340.85 L854.06,337.71 L855.95,334.6 L857.89,331.52 L859.88,328.46 L861.92,325.44 L864,322.44 L866.12,319.47 L868.3,316.54 L870.51,313.64 L872.78,310.77 L875.08,307.94 L877.43,305.15 L879.83,302.39 L882.27,299.67 L884.75,297 L887.27,294.36 L889.84,291.76 L892.45,289.21 L895.1,286.7 L897.8,284.23 L900.53,281.81 L903.31,279.44 L906.12,277.11 L908.98,274.84 L911.87,272.61 L914.81,270.43 L917.78,268.31 L920.79,266.24 L923.84,264.22 L926.92,262.26 L930.03,260.35 L933.18,258.49 L936.36,256.7 L939.57,254.95 L942.81,253.27 L946.08,251.64 L949.37,250.08 L952.69,248.57 L956.04,247.12 L959.41,245.73 L962.8,244.41 L966.22,243.15 L969.65,241.95 L973.11,240.81 L976.58,239.74 L980.07,238.74 L983.58,237.79 L987.1,236.9 L990.64,236.07 L994.19,235.28 L997.76,234.54 L1001.33,233.84 L1004.91,233.19 L1008.51,232.56 L1012.11,231.97 L1015.72,231.41 L1019.33,230.87 L1022.95,230.35 L1026.57,229.84 L1030.2,229.35 L1033.82,228.87 L1037.45,228.4 L1041.08,227.94 L1044.71,227.49 L1048.34,227.06 L1051.98,226.65 L1055.61,226.26 L1059.24,225.89 L1062.88,225.55 L1066.51,225.23 L1070.15,224.95 L1073.78,224.7 L1077.42,224.49 L1081.06,224.31 L1084.7,224.17 L1088.34,224.08 L1091.98,224.03 L1095.62,224.03 L1099.26,224.08 L1102.9,224.18 L1106.54,224.33 L1110.18,224.54 L1113.82,224.82 L1117.46,225.15 L1121.1,225.55 L1124.74,226.01 L1128.37,226.55 L1132,227.15 L1135.62,227.82 L1139.22,228.56 L1142.81,229.38 L1146.38,230.27 L1149.92,231.24 L1153.44,232.28 L1156.92,233.4 L1160.38,234.6 L1163.8,235.89 L1167.17,237.25 L1170.51,238.7 L1173.8,240.23 L1177.04,241.85 L1180.23,243.55 L1183.36,245.35 L1186.43,247.23 L1189.44,249.21 L1192.39,251.27 L1195.27,253.44 L1198.08,255.69 L1200.81,258.05 L1203.46,260.5 L1206.03,263.05 L1208.52,265.7 L1210.93,268.44 L1213.26,271.28 L1215.52,274.19 L1217.72,277.18 L1219.87,280.22 L1221.97,283.31 L1224.04,286.44 L1226.08,289.59 L1228.11,292.77 L1230.12,295.95 L1232.14,299.13 L1234.23,302.25 L1236.52,305.23 L1239.11,308.01 L1242.05,310.37 L1245.1,311.71 L1248,311.36 L1250.59,309.43 L1252.87,306.85 L1254.85,304.06 L1256.54,301.08 L1257.98,297.94 L1259.2,294.65 L1260.21,291.23 L1261.04,287.71 L1261.73,284.09 L1262.3,280.4 L1262.77,276.65 L1263.18,272.87 L1263.54,269.07 L1263.88,265.27 L1264.23,261.48 L1264.62,257.73 L1265.03,254.02 L1265.47,250.33 L1265.94,246.66 L1266.43,243.03 L1266.94,239.41 L1267.46,235.81 L1268,232.22 L1268.55,228.65 L1269.11,225.09 L1269.67,221.54 L1270.23,217.99 L1270.8,214.44 L1271.36,210.89 L1271.91,207.34 L1272.46,203.78 L1272.99,200.21 L1273.52,196.64 L1274.03,193.06 L1274.53,189.47 L1275.03,185.87 L1275.51,182.27 L1275.98,178.66 L1276.45,175.05 L1276.91,171.43 L1277.35,167.81 L1277.79,164.18 L1278.23,160.55 L1278.65,156.91 L1279.06,153.27 L1279.47,149.63 L1279.87,145.98 L1280.27,142.33 L1280.66,138.68 L1281.04,135.03 L1281.41,131.38 L1281.78,127.73 L1282.15,124.07 L1282.5,120.42 L1282.86,116.76 L1283.2,113.11 L1283.55,109.45 L1283.89,105.8 L1284.22,102.15 L1284.55,98.5 L1284.88,94.86 L1285.2,91.21 L1285.52,87.57 L1285.84,83.93 L1286.15,80.3 L1286.47,76.67 L1286.78,73.05 L1287.08,69.43 L1287.39,65.81 L1287.69,62.2 L1288,58.6 L1288.3,55" stroke="#0a800f" stroke-opacity="0.7" stroke-linecap="square"/>
<path d="M794.7,534.5C795.25,533.72 796.22,531.05 798,529.8C799.78,528.55 802.63,527.47 805.4,527C808.17,526.53 811.52,526.83 814.6,527C817.68,527.17 820.82,528.45 823.9,528C826.98,527.55 830.33,525.1 833.1,524.3C835.87,523.5 837.07,521.85 840.5,523.2C843.93,524.55 849.77,532.62 853.7,532.4C857.63,532.18 859.73,523.43 864.1,521.9C868.47,520.37 875.97,522.63 879.9,523.2C883.83,523.77 884.2,526.38 887.7,525.3C891.2,524.22 897.57,518.8 900.9,516.7C904.23,514.6 903.73,512.7 907.7,512.7C911.67,512.7 918.02,516.82 924.7,516.7C931.38,516.58 940.58,513.28 947.8,512C955.02,510.72 960.52,510.02 968,509C975.48,507.98 985.7,507.07 992.7,505.9C999.7,504.73 1005.88,502.77 1010,502C1014.12,501.23 1012.57,501.93 1017.4,501.3C1022.23,500.67 1032.15,498.48 1039,498.2C1045.85,497.92 1050,498.18 1058.5,499.6C1067,501.02 1082.28,505.52 1090,506.7C1097.72,507.88 1100.17,506.08 1104.8,506.7C1109.43,507.32 1113.48,508.87 1117.8,510.4C1122.12,511.93 1126.38,514.82 1130.7,515.9C1135.02,516.98 1139.37,518.13 1143.7,516.9C1148.03,515.67 1152.68,511.75 1156.7,508.5C1160.72,505.25 1164.42,500.48 1167.8,497.4C1171.18,494.32 1174.53,491.55 1177,490C1179.47,488.45 1180.75,492.12 1182.6,488.1C1184.45,484.08 1186.33,465.02 1188.1,465.9C1189.87,466.78 1191.67,497.72 1193.2,493.4C1194.73,489.08 1195.78,447.47 1197.3,440C1198.82,432.53 1200.43,456.62 1202.3,448.6C1204.17,440.58 1206.45,395.18 1208.5,391.9C1210.55,388.62 1212.02,431.78 1214.6,428.9C1217.18,426.02 1221.12,376.87 1224,374.6C1226.88,372.33 1229.35,417.57 1231.9,415.3C1234.45,413.03 1237.23,369.43 1239.3,361C1241.37,352.57 1242.45,365.32 1244.3,364.7C1246.15,364.08 1248.93,357.93 1250.4,357.3C1251.87,356.67 1251.5,356.97 1253.1,360.9C1254.7,364.83 1257.95,379.62 1260,380.9C1262.05,382.18 1263.6,371.93 1265.4,368.6C1267.2,365.27 1269.12,359.62 1270.8,360.9C1272.48,362.18 1274.22,370.65 1275.5,376.3C1276.78,381.95 1277.48,388.35 1278.5,394.8C1279.52,401.25 1280.57,409.22 1281.6,415C1282.63,420.78 1283.58,429.33 1284.7,429.5C1285.82,429.67 1287.7,418.25 1288.3,416" stroke="#a52a2a" stroke-opacity="0.7" stroke-linecap="square"/>
<path d="M794.7,503.5C795.4,504.95 797.12,509.67 798.9,512.2C800.68,514.73 803.08,517.47 805.4,518.7C807.72,519.93 810.03,520.07 812.8,519.6C815.57,519.13 818.63,517 822,515.9C825.37,514.8 829.03,513.08 833,513C836.97,512.92 841.48,514.35 845.8,515.4C850.12,516.45 854.53,519.3 858.9,519.3C863.27,519.3 867.63,517.58 872,515.4C876.37,513.22 880.73,508.83 885.1,506.2C889.47,503.57 893.65,501.97 898.2,499.6C902.75,497.23 907.53,495.15 912.4,492C917.27,488.85 923.67,481.03 927.4,480.7C931.13,480.37 932.18,486.13 934.8,490C937.42,493.87 940.32,503.9 943.1,503.9C945.88,503.9 948.87,496.02 951.5,490C954.13,483.98 956.18,474.43 958.9,467.8C961.62,461.17 965.18,451.13 967.8,450.2C970.42,449.27 972.13,456.18 974.6,462.2C977.07,468.22 980.28,487.53 982.6,486.3C984.92,485.07 986.58,465.75 988.5,454.8C990.42,443.85 992.25,422.75 994.1,420.6C995.95,418.45 997.6,434.5 999.6,441.9C1001.6,449.3 1004.18,463.65 1006.1,465C1008.02,466.35 1007.48,460.62 1011.1,450C1014.72,439.38 1022.55,404.32 1027.8,401.3C1033.05,398.28 1038.28,431.28 1042.6,431.9C1046.92,432.52 1050.15,404.7 1053.7,405C1057.25,405.3 1060.35,440.95 1063.9,433.7C1067.45,426.45 1072.07,368.28 1075,361.5C1077.93,354.72 1079.5,386.22 1081.5,393C1083.5,399.78 1084.03,406.53 1087,402.2C1089.97,397.87 1095.72,375.95 1099.3,367C1102.88,358.05 1105.82,351.8 1108.5,348.5C1111.18,345.2 1112.82,350.3 1115.4,347.2C1117.98,344.1 1121.12,330.62 1124,329.9C1126.88,329.18 1130,344.7 1132.7,342.9C1135.4,341.1 1137.87,324.15 1140.2,319.1C1142.53,314.05 1144.53,314.22 1146.7,312.6C1148.87,310.98 1150.68,313 1153.2,309.4C1155.72,305.8 1159.1,296.22 1161.8,291C1164.5,285.78 1166.33,279.17 1169.4,278.1C1172.47,277.03 1177.13,285.32 1180.2,284.6C1183.27,283.88 1185.82,278.13 1187.8,273.8C1189.78,269.47 1190.65,263.15 1192.1,258.6C1193.55,254.05 1195.25,250.83 1196.5,246.5C1197.75,242.17 1198.3,237.23 1199.6,232.6C1200.9,227.97 1202.5,222.82 1204.3,218.7C1206.1,214.58 1208.08,210.98 1210.4,207.9C1212.72,204.82 1216.02,202.32 1218.2,200.2C1220.38,198.08 1221.2,198.3 1223.5,195.2C1225.8,192.1 1229.17,186.7 1232,181.6C1234.83,176.5 1237.67,170.55 1240.5,164.6C1243.33,158.65 1246.18,152.12 1249,145.9C1251.82,139.68 1254.58,132.95 1257.4,127.3C1260.22,121.65 1263.07,115.68 1265.9,112C1268.73,108.32 1271.85,106.37 1274.4,105.2C1276.95,104.03 1279.22,104.15 1281.2,105C1283.18,105.85 1285.12,108.97 1286.3,110.3C1287.48,111.63 1287.97,112.55 1288.3,113" stroke="#fa5a41" stroke-opacity="0.7" stroke-linecap="square"/>
<path d="M794.7,549.5C795.08,549.1 795.22,548.12 797,547.1C798.78,546.08 802.47,543.87 805.4,543.4C808.33,542.93 811.52,544 814.6,544.3C817.68,544.6 820.82,545.52 823.9,545.2C826.98,544.88 830.33,542.75 833.1,542.4C835.87,542.05 837.07,541.02 840.5,543.1C843.93,545.18 849.77,554.55 853.7,554.9C857.63,555.25 860.62,546.95 864.1,545.2C867.58,543.45 870.22,543.88 874.6,544.4C878.98,544.92 885.58,548.08 890.4,548.3C895.22,548.52 898.82,546.85 903.5,545.7C908.18,544.55 912.38,540.32 918.5,541.4C924.62,542.48 934.02,551.28 940.2,552.2C946.38,553.12 951.75,548.7 955.6,546.9C959.45,545.1 961.13,541.65 963.3,541.4C965.47,541.15 966.53,545.15 968.6,545.4C970.67,545.65 973.13,542.13 975.7,542.9C978.27,543.67 981.28,550.15 984,550C986.72,549.85 989.27,541.73 992,542C994.73,542.27 997.62,551.08 1000.4,551.6C1003.18,552.12 1006.13,545.37 1008.7,545.1C1011.27,544.83 1012.3,550.88 1015.8,550C1019.3,549.12 1024.8,539.95 1029.7,539.8C1034.6,539.65 1038.55,548.32 1045.2,549.1C1051.85,549.88 1062.13,544.83 1069.6,544.5C1077.07,544.17 1085.05,546.73 1090,547.1C1094.95,547.47 1096.22,547.88 1099.3,546.7C1102.38,545.52 1105.12,542.67 1108.5,540C1111.88,537.33 1116.35,531.63 1119.6,530.7C1122.85,529.77 1125.22,535.32 1128,534.4C1130.78,533.48 1133.37,529.2 1136.3,525.2C1139.23,521.2 1142.82,514.72 1145.6,510.4C1148.38,506.08 1151,504.87 1153,499.3C1155,493.73 1156.07,483.8 1157.6,477C1159.13,470.2 1160.65,464.67 1162.2,458.5C1163.75,452.33 1165.27,446.75 1166.9,440C1168.53,433.25 1170.15,426.33 1172,418C1173.85,409.67 1176.27,400 1178,390C1179.73,380 1180.42,366.22 1182.4,358C1184.38,349.78 1188.1,347.18 1189.9,340.7C1191.7,334.22 1191.93,327.02 1193.2,319.1C1194.47,311.18 1196.07,301.12 1197.5,293.2C1198.93,285.28 1200.37,277.97 1201.8,271.6C1203.23,265.23 1204.4,259.95 1206.1,255C1207.8,250.05 1209.98,246.92 1212,241.9C1214.02,236.88 1216.27,230.05 1218.2,224.9C1220.13,219.75 1221.8,215.9 1223.6,211C1225.4,206.1 1227.03,200 1229,195.5C1230.97,191 1232.92,188.87 1235.4,184C1237.88,179.13 1240.8,171.23 1243.9,166.3C1247,161.37 1250.33,157.23 1254,154.4C1257.67,151.57 1262.78,149.58 1265.9,149.3C1269.02,149.02 1270.43,150.72 1272.7,152.7C1274.97,154.68 1277.52,160.92 1279.5,161.2C1281.48,161.48 1283.13,158.43 1284.6,154.4C1286.07,150.37 1287.68,139.9 1288.3,137" stroke="#000080" stroke-opacity="0.7" stroke-linecap="square"/>
<path d="M794.7,176.4 L1003,176.4 L1015,178.2 L1026,178.3 L1040,175.9 L1078.5,176.5 L1083.6,181.6 L1088.7,175.7 L1093.8,181.6 L1098.9,175.7 L1104,181.6 L1109.1,174.8 L1113.4,190 L1117,197 L1121,201 L1124.6,205.5 L1129.3,218 L1133.1,232.6 L1135.4,246.5 L1137,260 L1138.1,282.4 L1143.5,297.5 L1147.8,314.8 L1152.1,334.2 L1157.5,358 L1162.9,390 L1166,402 L1169.6,415.2 L1171.5,440 L1173.5,461 L1178.5,451.5 L1180.7,473.3 L1183.5,495.6 L1187.2,523.3 L1191.9,532.6 L1200,538.1 L1214.4,543.7 L1288.3,543.7" stroke="#808080" stroke-opacity="0.7" stroke-linecap="square"/>
</g>
<rect x="770.3" y="29.7" width="543.2" height="550.4" fill="none" stroke="#000" stroke-width="1.2"/>
<path d="M789.7,580.1 v4 M890.5,580.1 v4 M991.3,580.1 v4 M1092.1,580.1 v4 M1192.9,580.1 v4 M1293.7,580.1 v4 M770.3,214.4 h-3.8 M770.3,409.5 h-3.8 M1313.5,543.9 h3.8 M1313.5,470.44 h3.8 M1313.5,396.98 h3.8 M1313.5,323.52 h3.8 M1313.5,250.06 h3.8 M1313.5,176.6 h3.8 M1313.5,103.14 h3.8 M1313.5,29.68 h3.8" stroke="#000" stroke-width="1.1" fill="none"/>
<path d="M770.3,545.87 h-2.2 M770.3,511.51 h-2.2 M770.3,487.14 h-2.2 M770.3,468.23 h-2.2 M770.3,452.78 h-2.2 M770.3,439.72 h-2.2 M770.3,428.41 h-2.2 M770.3,418.43 h-2.2 M770.3,350.77 h-2.2 M770.3,316.41 h-2.2 M770.3,292.04 h-2.2 M770.3,273.13 h-2.2 M770.3,257.68 h-2.2 M770.3,244.62 h-2.2 M770.3,233.31 h-2.2 M770.3,223.33 h-2.2 M770.3,155.67 h-2.2 M770.3,121.31 h-2.2 M770.3,96.94 h-2.2 M770.3,78.03 h-2.2 M770.3,62.58 h-2.2 M770.3,49.52 h-2.2 M770.3,38.21 h-2.2" stroke="#000" stroke-width="0.9" fill="none"/>
<g style="font-family:'DejaVu Sans',sans-serif;font-size:15px" fill="#000" stroke="#000" stroke-width="0.55">
<text x="789.7" y="599.7" text-anchor="middle">0.0</text>
<text x="890.5" y="599.7" text-anchor="middle">0.2</text>
<text x="991.3" y="599.7" text-anchor="middle">0.4</text>
<text x="1092.1" y="599.7" text-anchor="middle">0.6</text>
<text x="1192.9" y="599.7" text-anchor="middle">0.8</text>
<text x="1293.7" y="599.7" text-anchor="middle">1.0</text>
<text x="1320.7" y="550.5">0.0</text>
<text x="1320.7" y="477.04">0.2</text>
<text x="1320.7" y="403.58">0.4</text>
<text x="1320.7" y="330.12">0.6</text>
<text x="1320.7" y="256.66">0.8</text>
<text x="1320.7" y="183.2">1.0</text>
<text x="1320.7" y="109.74">1.2</text>
<text x="1320.7" y="36.28">1.4</text>
<text x="761.8" y="220.6" text-anchor="end">10<tspan dy="-6.6" font-size="10.5px">0</tspan></text>
<text x="761.8" y="415.7" text-anchor="end">10<tspan dy="-6.6" font-size="10.5px">−1</tspan></text>
</g>
<rect x="776.6" y="35.9" width="100.2" height="116.2" rx="2.8" fill="#fff" fill-opacity="0.8" stroke="#d6d6d6" stroke-width="1"/>
<g style="font-family:'DejaVu Sans',sans-serif;font-size:12.9px" fill="#000">
<path d="M778.6,46.4 H810.2" stroke="#00ff00" stroke-opacity="0.7" stroke-width="5.6"/>
<text x="816.4" y="51.6" stroke="#000" stroke-width="0.3">DB 1k</text>
<path d="M778.6,65.08 H810.2" stroke="#3cb371" stroke-opacity="0.7" stroke-width="5.6"/>
<text x="816.4" y="70.28" stroke="#000" stroke-width="0.3">DB 100k</text>
<path d="M778.6,83.76 H810.2" stroke="#0a800f" stroke-opacity="0.7" stroke-width="5.6"/>
<text x="816.4" y="88.96" stroke="#000" stroke-width="0.3">NN</text>
<path d="M778.6,102.44 H810.2" stroke="#a52a2a" stroke-opacity="0.7" stroke-width="5.6"/>
<text x="816.4" y="107.64" stroke="#000" stroke-width="0.3">DDPM</text>
<path d="M778.6,121.12 H810.2" stroke="#fa5a41" stroke-opacity="0.7" stroke-width="5.6"/>
<text x="816.4" y="126.32" stroke="#000" stroke-width="0.3">OPT</text>
<path d="M778.6,139.8 H810.2" stroke="#000080" stroke-opacity="0.7" stroke-width="5.6"/>
<text x="816.4" y="145" stroke="#000" stroke-width="0.3">FISTA</text>
</g>
<rect x="1152.4" y="36.1" width="154.1" height="22.4" rx="2.8" fill="#fff" fill-opacity="0.8" stroke="#d6d6d6" stroke-width="1"/>
<path d="M1154.4,46.5 H1185.7" stroke="#808080" stroke-opacity="0.7" stroke-width="5.6"/>
<text x="1192.2" y="50.8" style="font-family:'DejaVu Sans',sans-serif;font-size:12.8px" stroke="#000" stroke-width="0.3">% of rigid graphs</text>
<g style="font-family:'Liberation Serif','Times New Roman',serif;font-size:25.6px" fill="#000">
<text x="5" y="24" font-size="26.5">(a)</text>
<text x="690" y="24" font-size="26.5">(b)</text>
<text x="1414.5" y="25.5" font-size="26.5">(c)</text>
<text x="338.6" y="636.8" text-anchor="middle">Missing ratio, μ</text>
<text x="1042.9" y="636.8" text-anchor="middle">Missing ratio, μ</text>
<text transform="translate(23.1,293) rotate(-90)" text-anchor="middle">RMSE</text>
<text transform="translate(718.4,291) rotate(-90)" text-anchor="middle">FID</text>
<text x="1757.6" y="636.4" text-anchor="middle">log(M)</text>
<text transform="translate(1425.8,286.5) rotate(90)" text-anchor="middle">log(FID)</text>
<text x="1570.5" y="382.5">μ increases</text>
</g>
<rect x="1501.0" y="35.7" width="498.5" height="545.6" fill="none" stroke="#000" stroke-width="1.5"/>
<path d="M1523.7,581.3 v4.3 M1584.9,581.3 v4.3 M1646.2,581.3 v4.3 M1707.4,581.3 v4.3 M1768.7,581.3 v4.3 M1829.9,581.3 v4.3 M1891.1,581.3 v4.3 M1952.4,581.3 v4.3 M1501,77.9 h-4.3 M1501,163.9 h-4.3 M1501,249.9 h-4.3 M1501,335.9 h-4.3 M1501,422 h-4.3 M1501,508 h-4.3" stroke="#000" stroke-width="1.3" fill="none"/>
<g style="font-family:'DejaVu Sans',sans-serif;font-size:12.6px" fill="#000" stroke="#000" stroke-width="0.45">
<text x="1523.7" y="602.3" text-anchor="middle">2.0</text>
<text x="1584.9" y="602.3" text-anchor="middle">2.5</text>
<text x="1646.2" y="602.3" text-anchor="middle">3.0</text>
<text x="1707.4" y="602.3" text-anchor="middle">3.5</text>
<text x="1768.7" y="602.3" text-anchor="middle">4.0</text>
<text x="1829.9" y="602.3" text-anchor="middle">4.5</text>
<text x="1891.1" y="602.3" text-anchor="middle">5.0</text>
<text x="1952.4" y="602.3" text-anchor="middle">5.5</text>
<text x="1492.5" y="82.4" text-anchor="end">0.2</text>
<text x="1492.5" y="168.4" text-anchor="end">0.0</text>
<text x="1492.5" y="254.4" text-anchor="end">−0.2</text>
<text x="1492.5" y="340.4" text-anchor="end">−0.4</text>
<text x="1492.5" y="426.5" text-anchor="end">−0.6</text>
<text x="1492.5" y="512.5" text-anchor="end">−0.8</text>
</g>
<path d="M1523.7,60.5h0M1651.2,97h0M1685.6,104.7h0M1706.4,107.9h0M1721.2,108.4h0M1732.8,110.4h0M1742.4,102.2h0M1750.4,110.9h0M1757.5,119.8h0M1763.6,113h0M1769.2,111.3h0M1774.2,115.7h0M1778.8,113.4h0M1783,117.8h0M1786.9,114.1h0M1790.6,113.3h0M1794,114.6h0M1797.2,115.7h0M1800.2,115.7h0M1803.1,114h0M1805.8,117.1h0M1808.4,123.2h0M1810.8,116.9h0M1813.2,120.3h0M1815.4,117.1h0M1817.6,122.9h0M1819.7,123.6h0M1821.7,116.3h0M1823.6,123.7h0M1825.5,113.4h0M1827.3,118h0M1829,119.4h0M1830.7,117.8h0M1832.3,126.8h0M1833.9,119.7h0M1835.4,122.2h0M1836.9,123.1h0M1838.4,126.4h0M1839.8,123.6h0M1841.2,125.1h0M1842.5,122.9h0M1843.8,126.1h0M1845.1,121h0M1846.4,129.5h0M1847.6,122h0M1848.8,128.9h0M1850,130.6h0M1851.1,128.6h0M1852.2,130.8h0M1853.3,120.9h0M1854.4,126.7h0M1855.4,126h0M1856.5,129.4h0M1857.5,125h0M1858.5,126.2h0M1859.4,125.8h0M1860.4,120.9h0M1861.3,128.1h0M1862.3,127.9h0M1863.2,124.8h0M1864.1,132.9h0M1864.9,127.4h0M1865.8,127.8h0M1866.6,122.4h0M1867.5,129.7h0M1868.3,123.2h0M1869.1,128.6h0M1869.9,132h0M1870.7,129.4h0M1871.5,126.4h0M1872.2,132h0M1873,122.6h0M1873.7,125.1h0M1874.5,128.3h0M1875.2,125.3h0M1875.9,124.8h0M1876.6,128.8h0M1877.3,127.9h0M1878,123.2h0M1878.7,126.7h0M1879.3,122.1h0M1880,127h0M1880.6,132.5h0M1881.3,121.7h0M1881.9,126h0M1882.6,125h0M1883.2,127.5h0M1883.8,131.7h0M1884.4,119.4h0M1885,127.9h0M1885.6,125.8h0M1886.2,128.4h0M1886.8,125.1h0M1887.3,127.7h0M1887.9,130.7h0M1888.5,125.3h0M1889,129.2h0M1889.6,129.7h0M1890.1,133.1h0M1890.7,135.2h0M1891.2,134.3h0M1891.7,130.8h0M1892.2,126.3h0M1892.8,129.6h0M1893.3,125.7h0M1893.8,126.2h0M1894.3,125.4h0M1894.8,127.9h0M1895.3,121.3h0M1895.8,131.7h0M1896.3,126.5h0M1896.7,127.3h0M1897.2,132.6h0M1897.7,130.8h0M1898.2,128.7h0M1898.6,128.1h0M1899.1,136.4h0M1899.5,131.4h0M1900,132.1h0M1900.4,131h0M1900.9,135.8h0M1901.3,134.5h0M1901.8,141.5h0M1902.2,131.4h0M1902.6,129.6h0M1903.1,130.6h0M1903.5,137.5h0M1903.9,132.2h0M1904.3,138.3h0M1904.7,128.2h0M1905.1,134.5h0M1905.5,142h0M1905.9,135.6h0M1906.3,127.2h0M1906.7,129.1h0M1907.1,126.1h0M1907.5,132.2h0M1907.9,128.7h0M1908.3,134.5h0M1908.7,128.4h0M1909.1,133.5h0M1909.5,135.6h0M1909.8,136.6h0M1910.2,131.6h0M1910.6,129.3h0M1910.9,126.9h0M1911.3,130h0M1911.7,133h0M1912,129.3h0M1912.4,137h0M1912.7,133.4h0M1913.1,137h0M1913.4,134.1h0M1913.8,130h0M1914.1,132h0M1914.5,128.9h0M1914.8,128.4h0M1915.2,135.2h0M1915.5,134.2h0M1915.8,134.9h0M1916.2,128.2h0M1916.5,126.4h0M1916.8,127h0M1917.2,131.5h0M1917.5,129.7h0M1917.8,130.8h0M1918.1,131h0M1918.5,133.6h0M1918.8,124.7h0M1919.1,134h0M1919.4,132.4h0M1919.7,133h0M1920,126.2h0M1920.3,135.4h0M1920.6,128.8h0M1920.9,131.4h0M1921.2,123.9h0M1921.5,132.3h0M1921.8,128.1h0M1922.1,131.3h0M1922.4,128.1h0M1922.7,132.9h0M1923,135.3h0M1923.3,134.1h0M1923.6,126.4h0M1923.9,128h0M1924.2,130h0M1924.5,127.6h0M1924.7,130.2h0M1925,129.9h0M1925.3,126.5h0M1925.6,129h0M1925.9,132.6h0M1926.1,133.8h0M1926.4,126.6h0M1926.7,130.2h0M1927,134.6h0M1927.2,133.1h0M1927.5,129.7h0M1927.8,125.7h0M1928,131.3h0M1928.3,132.4h0M1928.6,134.7h0M1928.8,130h0M1929.1,135.6h0M1929.3,128.7h0M1929.6,134.2h0M1929.9,138.9h0M1930.1,131.9h0M1930.4,130.6h0M1930.6,131.1h0M1930.9,133h0M1931.1,134.9h0M1931.4,136.6h0M1931.6,136h0M1931.9,130.5h0M1932.1,133.8h0M1932.4,127.9h0M1932.6,135.2h0M1932.9,139.7h0M1933.1,135h0M1933.3,136h0M1933.6,134.3h0M1933.8,133.3h0M1934.1,131.7h0M1934.3,132.9h0M1934.5,131.8h0M1934.8,128.6h0M1935,126.8h0M1935.2,136.9h0M1935.5,130.8h0M1935.7,132.3h0M1935.9,136.7h0M1936.2,130.4h0M1936.4,130.1h0M1936.6,128h0M1936.8,128.7h0M1937.1,131.4h0M1937.3,133.2h0M1937.5,134.4h0M1937.7,130.8h0M1938,126.9h0M1938.2,132.7h0M1938.4,127h0M1938.6,127.8h0M1938.8,127.5h0M1939,135.2h0M1939.3,134.5h0M1939.5,129.4h0M1939.7,129.8h0M1939.9,132.2h0M1940.1,132.1h0M1940.3,134.4h0M1940.5,132.5h0M1940.7,137.5h0M1941,127.9h0M1941.2,131.7h0M1941.4,138h0M1941.6,132.9h0M1941.8,136.3h0M1942,134.2h0M1942.2,133.1h0M1942.4,134.9h0M1942.6,133.3h0M1942.8,134h0M1943,133h0M1943.2,134.4h0M1943.4,135h0M1943.6,136.7h0M1943.8,128.8h0M1944,130.9h0M1944.2,132.7h0M1944.4,128.7h0M1944.6,131h0M1944.8,133.2h0M1945,132.6h0M1945.2,130.8h0M1945.4,132.7h0M1945.5,135.1h0M1945.7,134.9h0M1945.9,130.7h0M1946.1,135.2h0M1946.3,133.2h0M1946.5,137h0M1946.7,135.7h0M1946.9,133.6h0M1947.1,134.3h0M1947.2,134.3h0M1947.4,133.5h0M1947.6,124.5h0M1947.8,130.9h0M1948,134.2h0M1948.2,134.1h0M1948.3,127.4h0M1948.5,131.7h0M1948.7,133.1h0M1948.9,134.3h0M1949.1,131.7h0M1949.2,134.3h0M1949.4,136.3h0M1949.6,134.6h0M1949.8,135.5h0M1949.9,136.3h0M1950.1,133h0M1950.3,131.8h0M1950.5,135.5h0M1950.6,129.7h0M1950.8,132.5h0M1951,129.6h0M1951.2,130.5h0M1951.3,138.3h0M1951.5,135h0M1951.7,128.4h0M1951.9,134.5h0M1952,135.5h0M1952.2,137.8h0M1952.4,132h0M1952.5,133.6h0M1952.7,129.6h0M1952.9,124.2h0M1953,128.4h0M1953.2,136.8h0M1953.4,131.5h0M1953.5,134.8h0M1953.7,134.5h0M1953.9,141.5h0M1954,137.5h0M1954.2,129.4h0M1954.3,132.9h0M1954.5,136.1h0M1954.7,134.2h0M1954.8,131.3h0M1955,127.5h0M1955.1,126.7h0M1955.3,135.1h0M1955.5,132.4h0M1955.6,131h0M1955.8,134.4h0M1955.9,137.7h0M1956.1,136.9h0M1956.3,133.7h0M1956.4,131.3h0M1956.6,135.8h0M1956.7,133.8h0M1956.9,129.5h0M1957,140h0M1957.2,134.3h0M1957.3,138.9h0M1957.5,133.1h0M1957.6,127.8h0M1957.8,137.3h0M1957.9,127.3h0M1958.1,130h0M1958.2,133.7h0M1958.4,137.8h0M1958.5,135.1h0M1958.7,129.8h0M1958.8,133.9h0M1959,134.2h0M1959.1,126.9h0M1959.3,132.3h0M1959.4,135h0M1959.6,129.2h0M1959.7,138h0M1959.9,129.6h0M1960,137.3h0M1960.2,135.6h0M1960.3,129.3h0M1960.5,133.4h0M1960.6,132.5h0M1960.7,141.4h0M1960.9,133.7h0M1961,137.9h0M1961.2,134.1h0M1961.3,134.6h0M1961.5,137.1h0M1961.6,130.9h0M1961.7,139.6h0M1961.9,139.4h0M1962,132.9h0M1962.2,134.8h0M1962.3,135.1h0M1962.4,136.8h0M1962.6,136.3h0M1962.7,133.1h0M1962.9,124.3h0M1963,135.4h0M1963.1,136.9h0M1963.3,141.8h0M1963.4,133.8h0M1963.5,133.5h0M1963.7,144.3h0M1963.8,132.5h0M1964,131.8h0M1964.1,126.8h0M1964.2,129h0M1964.4,131.1h0M1964.5,133.6h0M1964.6,131.9h0M1964.8,128.5h0M1964.9,128.8h0M1965,129.7h0M1965.2,126.6h0M1965.3,128.6h0M1965.4,131.8h0M1965.6,136.1h0M1965.7,134.9h0M1965.8,136.8h0M1965.9,140.2h0M1966.1,133.2h0M1966.2,127.5h0M1966.3,133.6h0M1966.5,136.1h0M1966.6,136.6h0M1966.7,136.1h0M1966.9,136.7h0M1967,132.3h0M1967.1,135.5h0M1967.2,134h0M1967.4,134.1h0M1967.5,132.7h0M1967.6,133.9h0M1967.7,131.5h0M1967.9,131.2h0M1968,134h0M1968.1,133.4h0M1968.2,127.4h0M1968.4,130.8h0M1968.5,133.8h0M1968.6,134.2h0M1968.7,138h0M1968.9,131.8h0M1969,137.1h0M1969.1,128h0M1969.2,132.4h0M1969.4,135.4h0M1969.5,139.3h0M1969.6,139.1h0M1969.7,137h0M1969.8,141.6h0M1970,131.6h0M1970.1,136.7h0M1970.2,140.3h0M1970.3,135.5h0M1970.4,135h0M1970.6,135.7h0M1970.7,132.8h0M1970.8,135.1h0M1970.9,141h0M1971,131.9h0M1971.2,126.7h0M1971.3,137.7h0M1971.4,137.5h0M1971.5,132.2h0M1971.6,136.9h0M1971.7,139.6h0M1971.9,128.9h0M1972,132.3h0M1972.1,136.1h0M1972.2,134.1h0M1972.3,133.6h0M1972.4,137.2h0M1972.6,132.8h0M1972.7,140.2h0M1972.8,131.4h0M1972.9,139.2h0M1973,133.1h0M1973.1,136.4h0M1973.2,138.3h0M1973.4,134h0M1973.5,127.5h0M1973.6,133.6h0M1973.7,135.6h0M1973.8,129.4h0M1973.9,136.8h0M1974,137.1h0M1974.1,134.6h0M1974.3,135h0M1974.4,133.1h0M1974.5,134.8h0M1974.6,130.4h0M1974.7,132.9h0M1974.8,142h0M1974.9,133.9h0M1975,136h0M1975.1,132.7h0M1975.3,137.8h0M1975.4,136.1h0M1975.5,134.6h0M1975.6,130.3h0M1975.7,131.6h0M1975.8,135.2h0M1975.9,136h0M1976,127.7h0M1976.1,134.3h0M1976.2,135h0M1976.3,136.4h0M1976.4,136.8h0M1976.5,138.5h0M1976.7,133.4h0" stroke="#000000" stroke-width="3.35" stroke-linecap="round" fill="none"/>
<path d="M1523.7,127.4h0M1651.2,150.6h0M1685.6,151.4h0M1706.4,151.4h0M1721.2,158.3h0M1732.8,159.5h0M1742.4,164.2h0M1750.4,159h0M1757.5,156.5h0M1763.6,159.6h0M1769.2,156.8h0M1774.2,158.6h0M1778.8,155.9h0M1783,166.6h0M1786.9,159.9h0M1790.6,161.9h0M1794,166h0M1797.2,158.2h0M1800.2,171.2h0M1803.1,169.3h0M1805.8,164.9h0M1808.4,169.8h0M1810.8,161.1h0M1813.2,166.5h0M1815.4,171.8h0M1817.6,173.5h0M1819.7,159.3h0M1821.7,167.2h0M1823.6,166.2h0M1825.5,164.2h0M1827.3,165.8h0M1829,166.2h0M1830.7,165.1h0M1832.3,168.9h0M1833.9,168.2h0M1835.4,168.9h0M1836.9,165.1h0M1838.4,166.7h0M1839.8,164.2h0M1841.2,165.7h0M1842.5,167.9h0M1843.8,163.6h0M1845.1,172.4h0M1846.4,162.1h0M1847.6,162.2h0M1848.8,165h0M1850,164.9h0M1851.1,163.2h0M1852.2,161.2h0M1853.3,162h0M1854.4,169h0M1855.4,163.9h0M1856.5,169.4h0M1857.5,162h0M1858.5,164.6h0M1859.4,167.7h0M1860.4,161.3h0M1861.3,167.9h0M1862.3,172.8h0M1863.2,170.8h0M1864.1,175.7h0M1864.9,162.7h0M1865.8,166.2h0M1866.6,167.3h0M1867.5,166.8h0M1868.3,169h0M1869.1,167.6h0M1869.9,165.5h0M1870.7,168.6h0M1871.5,172.3h0M1872.2,172.5h0M1873,174.2h0M1873.7,169.7h0M1874.5,175.2h0M1875.2,167.8h0M1875.9,171.6h0M1876.6,177.1h0M1877.3,172.5h0M1878,170.8h0M1878.7,169.1h0M1879.3,173.5h0M1880,167h0M1880.6,170h0M1881.3,173.2h0M1881.9,167.8h0M1882.6,176.4h0M1883.2,166.8h0M1883.8,175.4h0M1884.4,167h0M1885,166.1h0M1885.6,173.9h0M1886.2,167.1h0M1886.8,172.9h0M1887.3,175.8h0M1887.9,170.8h0M1888.5,171.9h0M1889,172.1h0M1889.6,172.8h0M1890.1,169.8h0M1890.7,170.3h0M1891.2,173.2h0M1891.7,177.1h0M1892.2,175.7h0M1892.8,170.3h0M1893.3,178.9h0M1893.8,171.8h0M1894.3,164.2h0M1894.8,175.3h0M1895.3,174.4h0M1895.8,168.5h0M1896.3,174.9h0M1896.7,167h0M1897.2,175.3h0M1897.7,178.5h0M1898.2,171.6h0M1898.6,174.9h0M1899.1,167.6h0M1899.5,172.6h0M1900,173.9h0M1900.4,170.5h0M1900.9,176h0M1901.3,178.8h0M1901.8,175.1h0M1902.2,177.4h0M1902.6,181.3h0M1903.1,169.6h0M1903.5,170.5h0M1903.9,174.6h0M1904.3,169.4h0M1904.7,176.2h0M1905.1,173.1h0M1905.5,172.5h0M1905.9,171.1h0M1906.3,173.6h0M1906.7,175h0M1907.1,172.7h0M1907.5,176.5h0M1907.9,175.4h0M1908.3,173.9h0M1908.7,172.5h0M1909.1,179.1h0M1909.5,168.6h0M1909.8,175.5h0M1910.2,174.7h0M1910.6,170.8h0M1910.9,170.5h0M1911.3,171.5h0M1911.7,173h0M1912,167.2h0M1912.4,174h0M1912.7,168.9h0M1913.1,169h0M1913.4,174.1h0M1913.8,170.3h0M1914.1,167.2h0M1914.5,167.5h0M1914.8,175.8h0M1915.2,167.6h0M1915.5,171h0M1915.8,169.6h0M1916.2,171.7h0M1916.5,172.7h0M1916.8,173.7h0M1917.2,169.6h0M1917.5,179.4h0M1917.8,172.1h0M1918.1,172.1h0M1918.5,180.3h0M1918.8,168.4h0M1919.1,171.2h0M1919.4,173h0M1919.7,166.2h0M1920,168.4h0M1920.3,167h0M1920.6,175.3h0M1920.9,174.9h0M1921.2,177.4h0M1921.5,175.1h0M1921.8,168.8h0M1922.1,168.3h0M1922.4,167.8h0M1922.7,177.5h0M1923,172.3h0M1923.3,173.5h0M1923.6,172.4h0M1923.9,177.8h0M1924.2,171.6h0M1924.5,175.3h0M1924.7,171.5h0M1925,174h0M1925.3,179h0M1925.6,179.1h0M1925.9,176.1h0M1926.1,172.8h0M1926.4,177.1h0M1926.7,171.9h0M1927,174.9h0M1927.2,175.5h0M1927.5,180.1h0M1927.8,178.5h0M1928,177.5h0M1928.3,180.1h0M1928.6,178h0M1928.8,176.8h0M1929.1,175h0M1929.3,178.3h0M1929.6,182h0M1929.9,177.3h0M1930.1,179.8h0M1930.4,177.6h0M1930.6,178.1h0M1930.9,178h0M1931.1,177.5h0M1931.4,177.3h0M1931.6,177.4h0M1931.9,174.4h0M1932.1,175.3h0M1932.4,176.1h0M1932.6,178.4h0M1932.9,173.6h0M1933.1,173.7h0M1933.3,180.6h0M1933.6,172.9h0M1933.8,176.1h0M1934.1,177.4h0M1934.3,171.1h0M1934.5,171.5h0M1934.8,170.9h0M1935,178.7h0M1935.2,176.6h0M1935.5,181h0M1935.7,173.3h0M1935.9,174.1h0M1936.2,176.6h0M1936.4,173.9h0M1936.6,171.5h0M1936.8,175h0M1937.1,171.6h0M1937.3,174.2h0M1937.5,172h0M1937.7,172.9h0M1938,175.9h0M1938.2,183h0M1938.4,171.5h0M1938.6,171h0M1938.8,174.9h0M1939,176.1h0M1939.3,177.2h0M1939.5,173.6h0M1939.7,170.1h0M1939.9,175.8h0M1940.1,173h0M1940.3,174.5h0M1940.5,171h0M1940.7,172.5h0M1941,171.5h0M1941.2,177.2h0M1941.4,170.6h0M1941.6,176.8h0M1941.8,176.4h0M1942,179.2h0M1942.2,172.4h0M1942.4,179h0M1942.6,178h0M1942.8,173h0M1943,176h0M1943.2,168.9h0M1943.4,178.3h0M1943.6,172.5h0M1943.8,175.2h0M1944,176.2h0M1944.2,172.3h0M1944.4,175h0M1944.6,180.9h0M1944.8,171.7h0M1945,173.8h0M1945.2,175.1h0M1945.4,173.1h0M1945.5,176.4h0M1945.7,173h0M1945.9,174.7h0M1946.1,172.9h0M1946.3,175.9h0M1946.5,180h0M1946.7,173.9h0M1946.9,173.4h0M1947.1,176.4h0M1947.2,174.9h0M1947.4,169.4h0M1947.6,166.3h0M1947.8,173.5h0M1948,170.7h0M1948.2,180.7h0M1948.3,173.2h0M1948.5,172.9h0M1948.7,173.3h0M1948.9,179.7h0M1949.1,172.6h0M1949.2,170.5h0M1949.4,173.2h0M1949.6,175.9h0M1949.8,174.2h0M1949.9,180.3h0M1950.1,172.3h0M1950.3,170.6h0M1950.5,176h0M1950.6,174.1h0M1950.8,178.1h0M1951,183.4h0M1951.2,176.1h0M1951.3,169.2h0M1951.5,178.1h0M1951.7,174.5h0M1951.9,183.7h0M1952,178h0M1952.2,180.6h0M1952.4,179.6h0M1952.5,177.7h0M1952.7,177.5h0M1952.9,172.2h0M1953,179.1h0M1953.2,175.9h0M1953.4,176.2h0M1953.5,180.1h0M1953.7,173.4h0M1953.9,178h0M1954,178.5h0M1954.2,174h0M1954.3,178.7h0M1954.5,174.8h0M1954.7,176.4h0M1954.8,175.4h0M1955,173.1h0M1955.1,173.9h0M1955.3,171.3h0M1955.5,176.1h0M1955.6,182.3h0M1955.8,176.8h0M1955.9,175.8h0M1956.1,178.8h0M1956.3,184.4h0M1956.4,175.7h0M1956.6,173.4h0M1956.7,177.5h0M1956.9,178h0M1957,173.6h0M1957.2,171.6h0M1957.3,175.8h0M1957.5,174.3h0M1957.6,168.9h0M1957.8,173.3h0M1957.9,179.3h0M1958.1,174h0M1958.2,174.4h0M1958.4,175h0M1958.5,180.6h0M1958.7,181.4h0M1958.8,177.2h0M1959,170.8h0M1959.1,177.2h0M1959.3,175.7h0M1959.4,178.9h0M1959.6,182.6h0M1959.7,178.7h0M1959.9,173.7h0M1960,176.6h0M1960.2,171.1h0M1960.3,178.1h0M1960.5,175.1h0M1960.6,177.2h0M1960.7,173.8h0M1960.9,174.2h0M1961,171.9h0M1961.2,173.8h0M1961.3,175.6h0M1961.5,177.6h0M1961.6,174.1h0M1961.7,178.2h0M1961.9,178.3h0M1962,173.5h0M1962.2,174.9h0M1962.3,165.7h0M1962.4,176.2h0M1962.6,175.3h0M1962.7,176.1h0M1962.9,167h0M1963,175.2h0M1963.1,175.1h0M1963.3,170.7h0M1963.4,171.2h0M1963.5,171.9h0M1963.7,173.9h0M1963.8,172.6h0M1964,173.3h0M1964.1,175.2h0M1964.2,175.9h0M1964.4,177.5h0M1964.5,175.8h0M1964.6,177.7h0M1964.8,176.4h0M1964.9,175.6h0M1965,173.1h0M1965.2,170.6h0M1965.3,174.9h0M1965.4,171.5h0M1965.6,171.9h0M1965.7,173h0M1965.8,178.2h0M1965.9,166.4h0M1966.1,172.9h0M1966.2,171.3h0M1966.3,174.6h0M1966.5,169.1h0M1966.6,169.1h0M1966.7,173.5h0M1966.9,173.9h0M1967,173.2h0M1967.1,173.5h0M1967.2,173.1h0M1967.4,170.8h0M1967.5,174.1h0M1967.6,173.7h0M1967.7,172.9h0M1967.9,178.3h0M1968,173.7h0M1968.1,166.1h0M1968.2,169.2h0M1968.4,178.7h0M1968.5,172.7h0M1968.6,177.9h0M1968.7,184.7h0M1968.9,178.8h0M1969,174h0M1969.1,175.4h0M1969.2,179.2h0M1969.4,177.8h0M1969.5,180h0M1969.6,176.1h0M1969.7,174.6h0M1969.8,174.9h0M1970,173.6h0M1970.1,178.2h0M1970.2,175.9h0M1970.3,176.7h0M1970.4,178.5h0M1970.6,175.4h0M1970.7,172.3h0M1970.8,171.9h0M1970.9,169.9h0M1971,175.8h0M1971.2,172.7h0M1971.3,174.7h0M1971.4,173.5h0M1971.5,175.2h0M1971.6,179.3h0M1971.7,174.5h0M1971.9,174.8h0M1972,171.1h0M1972.1,176.2h0M1972.2,171.9h0M1972.3,179.6h0M1972.4,177.3h0M1972.6,177.6h0M1972.7,168.9h0M1972.8,184.7h0M1972.9,177.9h0M1973,176.3h0M1973.1,168.7h0M1973.2,174.5h0M1973.4,176.6h0M1973.5,175.9h0M1973.6,175.6h0M1973.7,174.5h0M1973.8,175.1h0M1973.9,177.7h0M1974,169.3h0M1974.1,174.3h0M1974.3,166.9h0M1974.4,171.3h0M1974.5,177.2h0M1974.6,174.3h0M1974.7,178.5h0M1974.8,174.6h0M1974.9,180.1h0M1975,176h0M1975.1,172.1h0M1975.3,173.4h0M1975.4,173.9h0M1975.5,170.9h0M1975.6,176.8h0M1975.7,181.4h0M1975.8,177.4h0M1975.9,176.1h0M1976,176h0M1976.1,174.8h0M1976.2,173.1h0M1976.3,175.9h0M1976.4,181.6h0M1976.5,177h0M1976.7,180.2h0" stroke="#333333" stroke-width="3.35" stroke-linecap="round" fill="none"/>
<path d="M1523.7,169.9h0M1651.2,219.7h0M1685.6,225h0M1706.4,233.6h0M1721.2,230.3h0M1732.8,236.9h0M1742.4,236.4h0M1750.4,231.4h0M1757.5,230h0M1763.6,236.9h0M1769.2,236.8h0M1774.2,237.6h0M1778.8,233.7h0M1783,237.5h0M1786.9,236.1h0M1790.6,234.3h0M1794,237h0M1797.2,238.9h0M1800.2,237.7h0M1803.1,241.1h0M1805.8,238.2h0M1808.4,243.8h0M1810.8,244.9h0M1813.2,243.9h0M1815.4,241.2h0M1817.6,236.4h0M1819.7,234.7h0M1821.7,241.4h0M1823.6,237.9h0M1825.5,244h0M1827.3,239.6h0M1829,233h0M1830.7,239.1h0M1832.3,237.8h0M1833.9,244h0M1835.4,233.1h0M1836.9,237h0M1838.4,231.7h0M1839.8,231.1h0M1841.2,240.9h0M1842.5,229.8h0M1843.8,240h0M1845.1,241.8h0M1846.4,236.2h0M1847.6,238.2h0M1848.8,233.1h0M1850,239.8h0M1851.1,241.8h0M1852.2,232.3h0M1853.3,244h0M1854.4,239.7h0M1855.4,243h0M1856.5,243.1h0M1857.5,244.4h0M1858.5,235.2h0M1859.4,243.3h0M1860.4,240.5h0M1861.3,240h0M1862.3,239.6h0M1863.2,239.5h0M1864.1,241.3h0M1864.9,241.1h0M1865.8,238.5h0M1866.6,244.6h0M1867.5,239h0M1868.3,242.5h0M1869.1,242.3h0M1869.9,234.1h0M1870.7,243.1h0M1871.5,243.1h0M1872.2,241.2h0M1873,238.4h0M1873.7,241h0M1874.5,244.4h0M1875.2,244.5h0M1875.9,245h0M1876.6,242h0M1877.3,246.7h0M1878,239.6h0M1878.7,242.6h0M1879.3,251.3h0M1880,248.9h0M1880.6,241.6h0M1881.3,243.6h0M1881.9,245.4h0M1882.6,244.1h0M1883.2,241.5h0M1883.8,246.9h0M1884.4,246.8h0M1885,243h0M1885.6,245.1h0M1886.2,248.9h0M1886.8,251.2h0M1887.3,243h0M1887.9,243.4h0M1888.5,241.8h0M1889,245.4h0M1889.6,243.1h0M1890.1,244h0M1890.7,251.4h0M1891.2,247.7h0M1891.7,248h0M1892.2,242.6h0M1892.8,241.1h0M1893.3,242.9h0M1893.8,249.4h0M1894.3,244.4h0M1894.8,239.9h0M1895.3,246.9h0M1895.8,242.1h0M1896.3,246.5h0M1896.7,242.2h0M1897.2,249.7h0M1897.7,248.2h0M1898.2,249.4h0M1898.6,248.2h0M1899.1,244.4h0M1899.5,245.2h0M1900,245.4h0M1900.4,241.8h0M1900.9,249.6h0M1901.3,244.3h0M1901.8,248.3h0M1902.2,249.1h0M1902.6,246h0M1903.1,245.1h0M1903.5,247.3h0M1903.9,250.3h0M1904.3,246.8h0M1904.7,242.6h0M1905.1,241.8h0M1905.5,244.9h0M1905.9,245.3h0M1906.3,241.2h0M1906.7,245.5h0M1907.1,244.9h0M1907.5,248.3h0M1907.9,246.6h0M1908.3,246.2h0M1908.7,239.6h0M1909.1,251.5h0M1909.5,246.5h0M1909.8,249.7h0M1910.2,240.6h0M1910.6,249.2h0M1910.9,242.4h0M1911.3,244.9h0M1911.7,245h0M1912,248.3h0M1912.4,243.2h0M1912.7,246.9h0M1913.1,244.6h0M1913.4,246.7h0M1913.8,249.8h0M1914.1,246.1h0M1914.5,245.8h0M1914.8,243h0M1915.2,247.5h0M1915.5,248.7h0M1915.8,246.4h0M1916.2,247.6h0M1916.5,240.7h0M1916.8,245.8h0M1917.2,248.2h0M1917.5,249.6h0M1917.8,249.2h0M1918.1,252.2h0M1918.5,249.5h0M1918.8,246.2h0M1919.1,251.6h0M1919.4,251.2h0M1919.7,252.2h0M1920,247.9h0M1920.3,245.7h0M1920.6,252.8h0M1920.9,255h0M1921.2,247.3h0M1921.5,246h0M1921.8,249.1h0M1922.1,249.9h0M1922.4,250.1h0M1922.7,245.9h0M1923,249.4h0M1923.3,250.7h0M1923.6,251.5h0M1923.9,248.2h0M1924.2,247h0M1924.5,251.5h0M1924.7,245.6h0M1925,247.7h0M1925.3,245.8h0M1925.6,246.2h0M1925.9,254.3h0M1926.1,251.4h0M1926.4,245.4h0M1926.7,252.2h0M1927,240.9h0M1927.2,247h0M1927.5,245.8h0M1927.8,247.6h0M1928,243.3h0M1928.3,254.2h0M1928.6,242.3h0M1928.8,247.5h0M1929.1,247.4h0M1929.3,245.4h0M1929.6,246.4h0M1929.9,242.6h0M1930.1,248.6h0M1930.4,248.6h0M1930.6,248.5h0M1930.9,251.9h0M1931.1,248.1h0M1931.4,250h0M1931.6,240.7h0M1931.9,248.6h0M1932.1,243.8h0M1932.4,241.6h0M1932.6,250.6h0M1932.9,257.2h0M1933.1,252.2h0M1933.3,248.9h0M1933.6,247.2h0M1933.8,247.9h0M1934.1,250.1h0M1934.3,255.1h0M1934.5,250.4h0M1934.8,247.9h0M1935,253.1h0M1935.2,245.7h0M1935.5,248.2h0M1935.7,251.9h0M1935.9,251.6h0M1936.2,249.5h0M1936.4,246.6h0M1936.6,246h0M1936.8,246.6h0M1937.1,248.5h0M1937.3,248.9h0M1937.5,250.9h0M1937.7,253.9h0M1938,249.4h0M1938.2,246.7h0M1938.4,250.6h0M1938.6,244.5h0M1938.8,249.5h0M1939,251.6h0M1939.3,252.5h0M1939.5,248.4h0M1939.7,249.7h0M1939.9,254.9h0M1940.1,249.3h0M1940.3,246.7h0M1940.5,249.3h0M1940.7,245h0M1941,247.9h0M1941.2,249.1h0M1941.4,246.9h0M1941.6,253.4h0M1941.8,246.7h0M1942,244.8h0M1942.2,255.5h0M1942.4,250.4h0M1942.6,245.3h0M1942.8,248.1h0M1943,249.6h0M1943.2,248.2h0M1943.4,240.7h0M1943.6,248.1h0M1943.8,241.8h0M1944,248.6h0M1944.2,243.6h0M1944.4,247.7h0M1944.6,247.1h0M1944.8,251.5h0M1945,246.9h0M1945.2,242.3h0M1945.4,243h0M1945.5,247.3h0M1945.7,240.9h0M1945.9,245h0M1946.1,240h0M1946.3,238.4h0M1946.5,249.6h0M1946.7,240.9h0M1946.9,245.8h0M1947.1,245.7h0M1947.2,248.8h0M1947.4,242.4h0M1947.6,250.3h0M1947.8,243.2h0M1948,250.4h0M1948.2,246.6h0M1948.3,249.1h0M1948.5,251.4h0M1948.7,245.2h0M1948.9,246.2h0M1949.1,252.3h0M1949.2,242.5h0M1949.4,250.7h0M1949.6,250.1h0M1949.8,248.8h0M1949.9,248.8h0M1950.1,257.1h0M1950.3,241.1h0M1950.5,251.7h0M1950.6,251h0M1950.8,251.7h0M1951,249.5h0M1951.2,246.9h0M1951.3,250.2h0M1951.5,246.5h0M1951.7,249h0M1951.9,250.3h0M1952,249h0M1952.2,241.9h0M1952.4,253.8h0M1952.5,245.6h0M1952.7,252.3h0M1952.9,247.3h0M1953,253.5h0M1953.2,248.3h0M1953.4,247.1h0M1953.5,252.4h0M1953.7,254.1h0M1953.9,247.9h0M1954,251.1h0M1954.2,252.3h0M1954.3,249.7h0M1954.5,252.8h0M1954.7,249.3h0M1954.8,245.1h0M1955,247.6h0M1955.1,250.8h0M1955.3,247.7h0M1955.5,246.5h0M1955.6,252.6h0M1955.8,251.1h0M1955.9,246.6h0M1956.1,251.3h0M1956.3,249.5h0M1956.4,251.5h0M1956.6,246.8h0M1956.7,246.9h0M1956.9,247.9h0M1957,250.6h0M1957.2,245.2h0M1957.3,248.6h0M1957.5,247.3h0M1957.6,253h0M1957.8,247.5h0M1957.9,245.6h0M1958.1,249.7h0M1958.2,250.1h0M1958.4,250.3h0M1958.5,248.6h0M1958.7,249.9h0M1958.8,243.4h0M1959,251.8h0M1959.1,253.2h0M1959.3,247.6h0M1959.4,243.8h0M1959.6,247.1h0M1959.7,242.3h0M1959.9,247.1h0M1960,251.1h0M1960.2,249.7h0M1960.3,250.3h0M1960.5,248.6h0M1960.6,254.4h0M1960.7,246.6h0M1960.9,251.1h0M1961,252.2h0M1961.2,250.9h0M1961.3,247.8h0M1961.5,253.3h0M1961.6,251.8h0M1961.7,254.7h0M1961.9,241.7h0M1962,246.3h0M1962.2,248.5h0M1962.3,246.7h0M1962.4,251.1h0M1962.6,256h0M1962.7,251.3h0M1962.9,255.6h0M1963,251h0M1963.1,253h0M1963.3,254.4h0M1963.4,247.1h0M1963.5,249.7h0M1963.7,251.1h0M1963.8,249.1h0M1964,249.6h0M1964.1,250.3h0M1964.2,248.1h0M1964.4,247.6h0M1964.5,255.6h0M1964.6,252.3h0M1964.8,246.1h0M1964.9,249.1h0M1965,252.2h0M1965.2,254.7h0M1965.3,250.2h0M1965.4,251.4h0M1965.6,251.4h0M1965.7,254.8h0M1965.8,247.2h0M1965.9,249.6h0M1966.1,251.9h0M1966.2,256.6h0M1966.3,247.7h0M1966.5,251.1h0M1966.6,253.1h0M1966.7,252.8h0M1966.9,245.2h0M1967,245.1h0M1967.1,252.1h0M1967.2,252.5h0M1967.4,249.5h0M1967.5,248h0M1967.6,248.4h0M1967.7,246.8h0M1967.9,245.2h0M1968,251.4h0M1968.1,251.2h0M1968.2,247.5h0M1968.4,248.2h0M1968.5,253.8h0M1968.6,250.4h0M1968.7,250.8h0M1968.9,247.9h0M1969,248.8h0M1969.1,247.4h0M1969.2,253h0M1969.4,252.5h0M1969.5,245h0M1969.6,252.9h0M1969.7,249.4h0M1969.8,244.9h0M1970,251.6h0M1970.1,251.6h0M1970.2,247.1h0M1970.3,244.5h0M1970.4,245.1h0M1970.6,253.3h0M1970.7,246.8h0M1970.8,243.3h0M1970.9,248.3h0M1971,246.7h0M1971.2,248.6h0M1971.3,246h0M1971.4,249.5h0M1971.5,249.3h0M1971.6,252.5h0M1971.7,250.5h0M1971.9,257.6h0M1972,253.5h0M1972.1,250.7h0M1972.2,248.3h0M1972.3,256h0M1972.4,255.3h0M1972.6,254.6h0M1972.7,251.9h0M1972.8,253.6h0M1972.9,246.5h0M1973,252.6h0M1973.1,249.8h0M1973.2,256.3h0M1973.4,259.2h0M1973.5,254.6h0M1973.6,256.9h0M1973.7,251.6h0M1973.8,249.2h0M1973.9,250.1h0M1974,245.8h0M1974.1,244.8h0M1974.3,248.6h0M1974.4,244.6h0M1974.5,239.8h0M1974.6,255.2h0M1974.7,249.2h0M1974.8,249.8h0M1974.9,255.3h0M1975,248h0M1975.1,249.9h0M1975.3,250.7h0M1975.4,240.8h0M1975.5,247.1h0M1975.6,245.7h0M1975.7,242.9h0M1975.8,249.4h0M1975.9,248.4h0M1976,251.9h0M1976.1,249.6h0M1976.2,249.3h0M1976.3,250.5h0M1976.4,246.7h0M1976.5,251.6h0M1976.7,249.7h0" stroke="#666666" stroke-width="3.35" stroke-linecap="round" fill="none"/>
<path d="M1523.7,255.6h0M1651.2,333.3h0M1685.6,322.8h0M1706.4,329.7h0M1721.2,329.7h0M1732.8,332.5h0M1742.4,333.9h0M1750.4,329.7h0M1757.5,327.5h0M1763.6,331.2h0M1769.2,322.1h0M1774.2,333.5h0M1778.8,334.4h0M1783,340.1h0M1786.9,328.4h0M1790.6,336.5h0M1794,332.8h0M1797.2,335.1h0M1800.2,331.1h0M1803.1,334.6h0M1805.8,334h0M1808.4,347h0M1810.8,333.9h0M1813.2,333.7h0M1815.4,338.3h0M1817.6,332.7h0M1819.7,339.5h0M1821.7,332.9h0M1823.6,332.6h0M1825.5,340.8h0M1827.3,338.3h0M1829,340h0M1830.7,333.6h0M1832.3,337.6h0M1833.9,327.8h0M1835.4,331.7h0M1836.9,339h0M1838.4,332.9h0M1839.8,341.2h0M1841.2,338h0M1842.5,337.8h0M1843.8,333.6h0M1845.1,336.2h0M1846.4,341.5h0M1847.6,338.6h0M1848.8,337.2h0M1850,334h0M1851.1,341.9h0M1852.2,334.9h0M1853.3,344.2h0M1854.4,334.4h0M1855.4,340.3h0M1856.5,334.9h0M1857.5,331.7h0M1858.5,333.7h0M1859.4,337.1h0M1860.4,339h0M1861.3,341.3h0M1862.3,343.1h0M1863.2,333.6h0M1864.1,344.7h0M1864.9,343.1h0M1865.8,349.4h0M1866.6,341.4h0M1867.5,343.9h0M1868.3,337h0M1869.1,343.6h0M1869.9,343.8h0M1870.7,334.9h0M1871.5,339.3h0M1872.2,348.4h0M1873,342.1h0M1873.7,342.9h0M1874.5,333.9h0M1875.2,337.3h0M1875.9,343.1h0M1876.6,342.1h0M1877.3,347.2h0M1878,349.1h0M1878.7,338.1h0M1879.3,338.2h0M1880,345.2h0M1880.6,337.3h0M1881.3,347.1h0M1881.9,341.7h0M1882.6,349.9h0M1883.2,345.2h0M1883.8,346.1h0M1884.4,342.8h0M1885,349h0M1885.6,350.6h0M1886.2,346.6h0M1886.8,342.7h0M1887.3,344.9h0M1887.9,343.7h0M1888.5,334.4h0M1889,350.5h0M1889.6,349.6h0M1890.1,340.3h0M1890.7,346.8h0M1891.2,343.8h0M1891.7,340.6h0M1892.2,353.2h0M1892.8,343.2h0M1893.3,349.6h0M1893.8,341.6h0M1894.3,343.5h0M1894.8,346.5h0M1895.3,339h0M1895.8,339.4h0M1896.3,348.2h0M1896.7,345.2h0M1897.2,342.6h0M1897.7,350.6h0M1898.2,343.5h0M1898.6,342.2h0M1899.1,344.4h0M1899.5,345.6h0M1900,353h0M1900.4,347.6h0M1900.9,353.7h0M1901.3,343.4h0M1901.8,344h0M1902.2,341.7h0M1902.6,344.7h0M1903.1,343.4h0M1903.5,350.6h0M1903.9,346.1h0M1904.3,344.9h0M1904.7,346.2h0M1905.1,342.3h0M1905.5,349h0M1905.9,345.4h0M1906.3,350.7h0M1906.7,346.2h0M1907.1,352h0M1907.5,345.1h0M1907.9,350.9h0M1908.3,342.3h0M1908.7,346.7h0M1909.1,348.9h0M1909.5,353h0M1909.8,345.2h0M1910.2,345.5h0M1910.6,351.2h0M1910.9,346.6h0M1911.3,346.1h0M1911.7,351.9h0M1912,341.3h0M1912.4,346.6h0M1912.7,355.4h0M1913.1,346.7h0M1913.4,345.3h0M1913.8,354.9h0M1914.1,344.4h0M1914.5,348.5h0M1914.8,348.5h0M1915.2,349.6h0M1915.5,354.7h0M1915.8,338.8h0M1916.2,344.3h0M1916.5,347.7h0M1916.8,343.1h0M1917.2,338.3h0M1917.5,341.7h0M1917.8,347.8h0M1918.1,347.5h0M1918.5,344.8h0M1918.8,347.4h0M1919.1,347.2h0M1919.4,345.6h0M1919.7,346.5h0M1920,343.9h0M1920.3,344.3h0M1920.6,347.2h0M1920.9,342h0M1921.2,347.2h0M1921.5,345.5h0M1921.8,342.7h0M1922.1,341.2h0M1922.4,348.7h0M1922.7,343.2h0M1923,342.9h0M1923.3,352.3h0M1923.6,353.6h0M1923.9,344.4h0M1924.2,344.1h0M1924.5,348h0M1924.7,344.9h0M1925,350.6h0M1925.3,345.8h0M1925.6,348.4h0M1925.9,347.6h0M1926.1,350.8h0M1926.4,346.1h0M1926.7,348.8h0M1927,346.2h0M1927.2,347.5h0M1927.5,346.7h0M1927.8,348.8h0M1928,340.5h0M1928.3,355.6h0M1928.6,343.3h0M1928.8,345.1h0M1929.1,341.1h0M1929.3,347.8h0M1929.6,343.7h0M1929.9,346.3h0M1930.1,349.9h0M1930.4,347.6h0M1930.6,345.4h0M1930.9,350.6h0M1931.1,346.7h0M1931.4,347.5h0M1931.6,342.1h0M1931.9,350.1h0M1932.1,353.9h0M1932.4,347.3h0M1932.6,344.4h0M1932.9,344.7h0M1933.1,353.8h0M1933.3,346.1h0M1933.6,347h0M1933.8,353h0M1934.1,350.7h0M1934.3,352.6h0M1934.5,349.3h0M1934.8,350h0M1935,351.9h0M1935.2,349.4h0M1935.5,345.8h0M1935.7,345.3h0M1935.9,343.1h0M1936.2,345.3h0M1936.4,348.4h0M1936.6,352.2h0M1936.8,341h0M1937.1,345.6h0M1937.3,351.6h0M1937.5,343.6h0M1937.7,351.2h0M1938,344.2h0M1938.2,345.6h0M1938.4,352.4h0M1938.6,346.7h0M1938.8,354.6h0M1939,351h0M1939.3,350.3h0M1939.5,342.5h0M1939.7,348.3h0M1939.9,350.1h0M1940.1,359.2h0M1940.3,357.1h0M1940.5,349.7h0M1940.7,343.2h0M1941,346.2h0M1941.2,346.3h0M1941.4,351.5h0M1941.6,352.7h0M1941.8,348h0M1942,347.7h0M1942.2,350.5h0M1942.4,346.4h0M1942.6,352.6h0M1942.8,353.8h0M1943,341.4h0M1943.2,354h0M1943.4,346.6h0M1943.6,349.5h0M1943.8,340.6h0M1944,351.6h0M1944.2,346.4h0M1944.4,342.2h0M1944.6,347.5h0M1944.8,350.2h0M1945,345.5h0M1945.2,350.7h0M1945.4,346.5h0M1945.5,346.5h0M1945.7,341.2h0M1945.9,349.9h0M1946.1,347h0M1946.3,344.5h0M1946.5,347.3h0M1946.7,344.1h0M1946.9,353.5h0M1947.1,348h0M1947.2,353.1h0M1947.4,345.3h0M1947.6,339.9h0M1947.8,349.3h0M1948,348.5h0M1948.2,350.7h0M1948.3,342.8h0M1948.5,349.6h0M1948.7,354.2h0M1948.9,347.1h0M1949.1,354.1h0M1949.2,346.7h0M1949.4,346.9h0M1949.6,344.1h0M1949.8,341.1h0M1949.9,337.3h0M1950.1,340.6h0M1950.3,344.5h0M1950.5,349h0M1950.6,338.3h0M1950.8,340.7h0M1951,339.8h0M1951.2,347.1h0M1951.3,350.7h0M1951.5,347.9h0M1951.7,344.1h0M1951.9,349.9h0M1952,341.1h0M1952.2,355.1h0M1952.4,343.1h0M1952.5,338.6h0M1952.7,344.6h0M1952.9,349h0M1953,349.4h0M1953.2,344.6h0M1953.4,351h0M1953.5,350h0M1953.7,352h0M1953.9,348.3h0M1954,356.2h0M1954.2,351.7h0M1954.3,354.4h0M1954.5,349.2h0M1954.7,349.9h0M1954.8,350.7h0M1955,346.7h0M1955.1,352.4h0M1955.3,346.6h0M1955.5,356.8h0M1955.6,346h0M1955.8,351.7h0M1955.9,351.6h0M1956.1,353.3h0M1956.3,340h0M1956.4,352.7h0M1956.6,352.4h0M1956.7,345.2h0M1956.9,353.8h0M1957,352.6h0M1957.2,342.7h0M1957.3,346.3h0M1957.5,339.3h0M1957.6,349.5h0M1957.8,349.4h0M1957.9,350.7h0M1958.1,351.1h0M1958.2,349h0M1958.4,353.6h0M1958.5,348.5h0M1958.7,349.2h0M1958.8,350.9h0M1959,347.8h0M1959.1,352.7h0M1959.3,347.8h0M1959.4,349.9h0M1959.6,346.9h0M1959.7,348.6h0M1959.9,346h0M1960,343.8h0M1960.2,346.6h0M1960.3,350.7h0M1960.5,349.7h0M1960.6,350.4h0M1960.7,350.5h0M1960.9,347.5h0M1961,346.9h0M1961.2,346.1h0M1961.3,347.3h0M1961.5,347h0M1961.6,349.8h0M1961.7,349.8h0M1961.9,352h0M1962,350.1h0M1962.2,350.1h0M1962.3,349.1h0M1962.4,353.1h0M1962.6,346.1h0M1962.7,353.7h0M1962.9,346.8h0M1963,348.2h0M1963.1,345.9h0M1963.3,350.7h0M1963.4,356.3h0M1963.5,343.5h0M1963.7,351.4h0M1963.8,344.2h0M1964,350.2h0M1964.1,348.7h0M1964.2,349.5h0M1964.4,346.4h0M1964.5,346.7h0M1964.6,348.5h0M1964.8,349.5h0M1964.9,350.8h0M1965,350.8h0M1965.2,350h0M1965.3,347.9h0M1965.4,356.8h0M1965.6,345.4h0M1965.7,349h0M1965.8,344.4h0M1965.9,345.8h0M1966.1,344.2h0M1966.2,345.1h0M1966.3,354.6h0M1966.5,347h0M1966.6,349.6h0M1966.7,354.3h0M1966.9,349.2h0M1967,354.6h0M1967.1,351.6h0M1967.2,351.1h0M1967.4,343.3h0M1967.5,346.6h0M1967.6,356.5h0M1967.7,359.6h0M1967.9,350.4h0M1968,352.5h0M1968.1,354.6h0M1968.2,353.3h0M1968.4,356.8h0M1968.5,348.6h0M1968.6,348.9h0M1968.7,352h0M1968.9,355.3h0M1969,345.4h0M1969.1,355.3h0M1969.2,345.6h0M1969.4,349.8h0M1969.5,355.6h0M1969.6,341.6h0M1969.7,346.5h0M1969.8,351.8h0M1970,349.6h0M1970.1,351.3h0M1970.2,355.5h0M1970.3,354.9h0M1970.4,351h0M1970.6,349.8h0M1970.7,345.4h0M1970.8,350.1h0M1970.9,354.3h0M1971,345.4h0M1971.2,350.5h0M1971.3,351.7h0M1971.4,351.9h0M1971.5,344.2h0M1971.6,348.9h0M1971.7,348.5h0M1971.9,350.3h0M1972,358.1h0M1972.1,349.9h0M1972.2,353h0M1972.3,347.4h0M1972.4,357.1h0M1972.6,351.2h0M1972.7,357.4h0M1972.8,352.3h0M1972.9,358h0M1973,346.9h0M1973.1,354.5h0M1973.2,358.2h0M1973.4,347.7h0M1973.5,351.5h0M1973.6,351.1h0M1973.7,348.8h0M1973.8,351.3h0M1973.9,351h0M1974,356.8h0M1974.1,352.9h0M1974.3,354.3h0M1974.4,356.5h0M1974.5,354.5h0M1974.6,353h0M1974.7,355.9h0M1974.8,349.5h0M1974.9,349.3h0M1975,354.9h0M1975.1,352.4h0M1975.3,348.9h0M1975.4,352.8h0M1975.5,348.2h0M1975.6,350.3h0M1975.7,357.5h0M1975.8,351.9h0M1975.9,351.3h0M1976,356.3h0M1976.1,353.1h0M1976.2,346.8h0M1976.3,356.1h0M1976.4,350.2h0M1976.5,358.3h0M1976.7,355.1h0" stroke="#999999" stroke-width="3.35" stroke-linecap="round" fill="none"/>
<path d="M1523.7,444h0M1651.2,513.8h0M1685.6,522.5h0M1706.4,518.8h0M1721.2,517.3h0M1732.8,526.9h0M1742.4,532.6h0M1750.4,519h0M1757.5,525.7h0M1763.6,519h0M1769.2,527h0M1774.2,527.8h0M1778.8,520.8h0M1783,530.5h0M1786.9,536.9h0M1790.6,532.4h0M1794,524h0M1797.2,532.3h0M1800.2,535.5h0M1803.1,530.2h0M1805.8,527.9h0M1808.4,533.4h0M1810.8,540.7h0M1813.2,537.3h0M1815.4,533.3h0M1817.6,530.7h0M1819.7,527.8h0M1821.7,547.6h0M1823.6,535.1h0M1825.5,536.1h0M1827.3,535.1h0M1829,538.4h0M1830.7,527.7h0M1832.3,533.3h0M1833.9,530.4h0M1835.4,533.5h0M1836.9,536.2h0M1838.4,533.6h0M1839.8,534.1h0M1841.2,534.6h0M1842.5,540.3h0M1843.8,532.4h0M1845.1,542h0M1846.4,536.1h0M1847.6,536.3h0M1848.8,542.1h0M1850,534.6h0M1851.1,536.4h0M1852.2,540.1h0M1853.3,537.2h0M1854.4,534.2h0M1855.4,535.1h0M1856.5,534.9h0M1857.5,535.1h0M1858.5,532.6h0M1859.4,534.5h0M1860.4,531.8h0M1861.3,544.5h0M1862.3,542.7h0M1863.2,539.1h0M1864.1,542.4h0M1864.9,533.2h0M1865.8,535.9h0M1866.6,538.2h0M1867.5,534.1h0M1868.3,533.8h0M1869.1,541.6h0M1869.9,547.1h0M1870.7,541.9h0M1871.5,542.8h0M1872.2,535.1h0M1873,531.2h0M1873.7,541.8h0M1874.5,542.9h0M1875.2,543.1h0M1875.9,533.7h0M1876.6,534.9h0M1877.3,543.2h0M1878,535.4h0M1878.7,539.9h0M1879.3,540.6h0M1880,538.8h0M1880.6,538.7h0M1881.3,548.9h0M1881.9,543.1h0M1882.6,543.4h0M1883.2,543.5h0M1883.8,545.6h0M1884.4,538.3h0M1885,544.4h0M1885.6,544.7h0M1886.2,537.1h0M1886.8,535.7h0M1887.3,541.8h0M1887.9,542.8h0M1888.5,544.4h0M1889,548h0M1889.6,544h0M1890.1,539h0M1890.7,544.7h0M1891.2,534.2h0M1891.7,529.1h0M1892.2,540.4h0M1892.8,543.1h0M1893.3,540.1h0M1893.8,533.6h0M1894.3,536.6h0M1894.8,536.5h0M1895.3,534.6h0M1895.8,541.1h0M1896.3,535.5h0M1896.7,530.7h0M1897.2,544.6h0M1897.7,539.8h0M1898.2,540.4h0M1898.6,545.3h0M1899.1,532.1h0M1899.5,534.2h0M1900,538.1h0M1900.4,549.3h0M1900.9,538.2h0M1901.3,543h0M1901.8,540.9h0M1902.2,539h0M1902.6,543.4h0M1903.1,542.2h0M1903.5,540.7h0M1903.9,550.8h0M1904.3,539.9h0M1904.7,540.1h0M1905.1,538.3h0M1905.5,552.3h0M1905.9,544.6h0M1906.3,546.3h0M1906.7,532.9h0M1907.1,537h0M1907.5,542.4h0M1907.9,537.3h0M1908.3,536.2h0M1908.7,546h0M1909.1,531.7h0M1909.5,535.8h0M1909.8,535.7h0M1910.2,536.4h0M1910.6,542.3h0M1910.9,537.5h0M1911.3,538h0M1911.7,542.2h0M1912,539.7h0M1912.4,539.6h0M1912.7,530.6h0M1913.1,541.8h0M1913.4,541.4h0M1913.8,543.6h0M1914.1,533.6h0M1914.5,537.5h0M1914.8,540.4h0M1915.2,546.1h0M1915.5,545.5h0M1915.8,535.8h0M1916.2,544.5h0M1916.5,541.2h0M1916.8,544.9h0M1917.2,549.7h0M1917.5,540.1h0M1917.8,545.1h0M1918.1,549h0M1918.5,542.3h0M1918.8,540.3h0M1919.1,551.8h0M1919.4,547.1h0M1919.7,540.7h0M1920,544.2h0M1920.3,540h0M1920.6,546.5h0M1920.9,545.9h0M1921.2,557.9h0M1921.5,541.9h0M1921.8,538h0M1922.1,542.7h0M1922.4,549h0M1922.7,550.1h0M1923,544.4h0M1923.3,543.2h0M1923.6,535.9h0M1923.9,540h0M1924.2,543h0M1924.5,542.5h0M1924.7,531.6h0M1925,537.3h0M1925.3,539.8h0M1925.6,540.2h0M1925.9,546h0M1926.1,543.3h0M1926.4,552.5h0M1926.7,534.3h0M1927,533.5h0M1927.2,540.2h0M1927.5,541.2h0M1927.8,542.1h0M1928,542.7h0M1928.3,549.4h0M1928.6,546.1h0M1928.8,537.7h0M1929.1,546.1h0M1929.3,541.7h0M1929.6,545h0M1929.9,537.1h0M1930.1,546.4h0M1930.4,540.4h0M1930.6,538.3h0M1930.9,537.7h0M1931.1,544.7h0M1931.4,548.4h0M1931.6,544.3h0M1931.9,544.4h0M1932.1,544.5h0M1932.4,546.2h0M1932.6,549.2h0M1932.9,542.5h0M1933.1,542h0M1933.3,548.4h0M1933.6,540.8h0M1933.8,536.4h0M1934.1,540.8h0M1934.3,549.4h0M1934.5,536.5h0M1934.8,536.6h0M1935,541.1h0M1935.2,541.9h0M1935.5,540.4h0M1935.7,543.1h0M1935.9,541.5h0M1936.2,529.3h0M1936.4,539.2h0M1936.6,538.7h0M1936.8,536.2h0M1937.1,539.3h0M1937.3,535.1h0M1937.5,535.8h0M1937.7,536.3h0M1938,538.3h0M1938.2,543.1h0M1938.4,544.8h0M1938.6,544.7h0M1938.8,540.3h0M1939,541.1h0M1939.3,546.4h0M1939.5,544.7h0M1939.7,544.7h0M1939.9,545.7h0M1940.1,548.2h0M1940.3,548.1h0M1940.5,545.5h0M1940.7,547.2h0M1941,548.4h0M1941.2,542.2h0M1941.4,546.6h0M1941.6,555h0M1941.8,548.7h0M1942,543.6h0M1942.2,545.9h0M1942.4,546.6h0M1942.6,543.3h0M1942.8,548.1h0M1943,544.6h0M1943.2,543.2h0M1943.4,549.4h0M1943.6,546.3h0M1943.8,542.4h0M1944,552.8h0M1944.2,544.6h0M1944.4,540.1h0M1944.6,541.7h0M1944.8,544.5h0M1945,549.5h0M1945.2,532.3h0M1945.4,545.6h0M1945.5,552.6h0M1945.7,536h0M1945.9,550h0M1946.1,540.9h0M1946.3,550.3h0M1946.5,541.1h0M1946.7,540.9h0M1946.9,546.3h0M1947.1,537.8h0M1947.2,539.2h0M1947.4,549.7h0M1947.6,535.8h0M1947.8,543.1h0M1948,544.9h0M1948.2,542.2h0M1948.3,545.3h0M1948.5,541.2h0M1948.7,541h0M1948.9,545.1h0M1949.1,538.8h0M1949.2,549.4h0M1949.4,543h0M1949.6,554.5h0M1949.8,540.8h0M1949.9,543.5h0M1950.1,538.8h0M1950.3,535h0M1950.5,542.4h0M1950.6,538.9h0M1950.8,541.9h0M1951,540.1h0M1951.2,531.4h0M1951.3,543.9h0M1951.5,547.1h0M1951.7,548h0M1951.9,540.7h0M1952,541.1h0M1952.2,541.7h0M1952.4,541.1h0M1952.5,544.4h0M1952.7,546.9h0M1952.9,538.8h0M1953,549.1h0M1953.2,546h0M1953.4,548.1h0M1953.5,543.1h0M1953.7,539.3h0M1953.9,549h0M1954,544.9h0M1954.2,546.4h0M1954.3,553.8h0M1954.5,535.5h0M1954.7,542.3h0M1954.8,536.3h0M1955,538.5h0M1955.1,548.8h0M1955.3,535.9h0M1955.5,545.3h0M1955.6,543.3h0M1955.8,538.6h0M1955.9,536.6h0M1956.1,539.8h0M1956.3,540.1h0M1956.4,550.9h0M1956.6,537.4h0M1956.7,542.8h0M1956.9,544.2h0M1957,539h0M1957.2,535.8h0M1957.3,543.7h0M1957.5,537.4h0M1957.6,550.9h0M1957.8,542.9h0M1957.9,545.8h0M1958.1,544h0M1958.2,544.3h0M1958.4,540.5h0M1958.5,549.2h0M1958.7,538.9h0M1958.8,543.3h0M1959,551.6h0M1959.1,545h0M1959.3,542.1h0M1959.4,541.4h0M1959.6,539.9h0M1959.7,543h0M1959.9,540.7h0M1960,551.8h0M1960.2,541.5h0M1960.3,546.5h0M1960.5,552h0M1960.6,537.1h0M1960.7,548.9h0M1960.9,543.2h0M1961,540.9h0M1961.2,545.4h0M1961.3,543.5h0M1961.5,547.4h0M1961.6,546.5h0M1961.7,546.3h0M1961.9,541.7h0M1962,544.4h0M1962.2,546.1h0M1962.3,542.5h0M1962.4,547.4h0M1962.6,544.5h0M1962.7,546.9h0M1962.9,545h0M1963,546.9h0M1963.1,536h0M1963.3,550.3h0M1963.4,546.3h0M1963.5,546.6h0M1963.7,541h0M1963.8,541.7h0M1964,548.5h0M1964.1,553.3h0M1964.2,541.7h0M1964.4,548.3h0M1964.5,543.4h0M1964.6,544h0M1964.8,543.5h0M1964.9,542.2h0M1965,545.1h0M1965.2,550.9h0M1965.3,546.2h0M1965.4,542.3h0M1965.6,540.2h0M1965.7,545.3h0M1965.8,547h0M1965.9,548.2h0M1966.1,544.1h0M1966.2,543.6h0M1966.3,546.2h0M1966.5,540.2h0M1966.6,540.1h0M1966.7,544.5h0M1966.9,551.6h0M1967,551.4h0M1967.1,538.4h0M1967.2,543.8h0M1967.4,536.5h0M1967.5,543.5h0M1967.6,544.5h0M1967.7,546.5h0M1967.9,551.5h0M1968,551.1h0M1968.1,547.7h0M1968.2,544.1h0M1968.4,547.3h0M1968.5,543.3h0M1968.6,552.1h0M1968.7,538.8h0M1968.9,542.9h0M1969,543.7h0M1969.1,543.4h0M1969.2,545.9h0M1969.4,546.9h0M1969.5,540.4h0M1969.6,541.7h0M1969.7,544.5h0M1969.8,542.6h0M1970,546.3h0M1970.1,546h0M1970.2,537.9h0M1970.3,546.1h0M1970.4,543.3h0M1970.6,549.4h0M1970.7,547.9h0M1970.8,542.3h0M1970.9,553.7h0M1971,547.4h0M1971.2,547.7h0M1971.3,552.3h0M1971.4,550h0M1971.5,543.6h0M1971.6,541.9h0M1971.7,544.9h0M1971.9,551.6h0M1972,551.9h0M1972.1,547.6h0M1972.2,542.6h0M1972.3,546.1h0M1972.4,549.2h0M1972.6,550.9h0M1972.7,540.8h0M1972.8,553.9h0M1972.9,553.7h0M1973,544.3h0M1973.1,544.8h0M1973.2,538.2h0M1973.4,538.8h0M1973.5,550.2h0M1973.6,546.6h0M1973.7,542.1h0M1973.8,539.1h0M1973.9,539.8h0M1974,549.2h0M1974.1,538.3h0M1974.3,548.6h0M1974.4,536.6h0M1974.5,551.8h0M1974.6,539.7h0M1974.7,540.8h0M1974.8,541.3h0M1974.9,539.8h0M1975,549.7h0M1975.1,547.4h0M1975.3,548.8h0M1975.4,545.8h0M1975.5,547h0M1975.6,554.5h0M1975.7,549.4h0M1975.8,549h0M1975.9,537.3h0M1976,554.7h0M1976.1,542.8h0M1976.2,550.7h0M1976.3,551.7h0M1976.4,543.9h0M1976.5,551.2h0M1976.7,542.8h0" stroke="#cccccc" stroke-width="3.35" stroke-linecap="round" fill="none"/>
<path d="M1552,418 V326" stroke="#000" stroke-width="1.9" fill="none"/>
<path d="M1551.95,310.1 L1560.8,330.9 L1551.95,326.7 L1543.2,330.9 Z" fill="#000"/>
</svg></body></html>
